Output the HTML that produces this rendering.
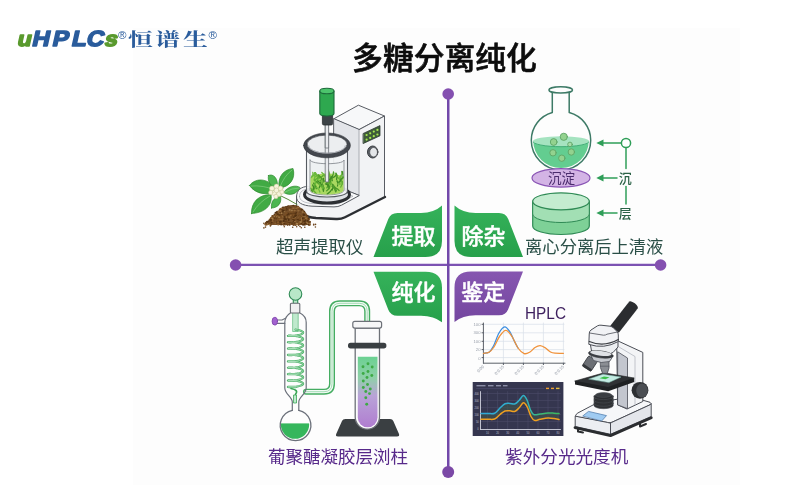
<!DOCTYPE html>
<html lang="zh">
<head>
<meta charset="utf-8">
<title>多糖分离纯化</title>
<style>
html,body{margin:0;padding:0;background:#fff;}
body{width:800px;height:500px;overflow:hidden;position:relative;font-family:"Liberation Sans","Noto Sans CJK SC",sans-serif;}
svg{position:absolute;left:0;top:0;display:block;filter:blur(0.35px);}
text{font-family:"Liberation Sans","Noto Sans CJK SC",sans-serif;}
.cap{font-size:17.5px;fill:#2a4f47;}
.capp{font-size:17.5px;fill:#57298a;}
.badge{font-size:22px;font-weight:500;fill:#fff;stroke:#fff;stroke-width:0.45px;stroke-linejoin:round;}
</style>
</head>
<body>
<svg width="800" height="500" viewBox="0 0 800 500">
<defs>
<linearGradient id="gleaf" x1="0" y1="0" x2="0" y2="1"><stop offset="0" stop-color="#35b25a"/><stop offset="1" stop-color="#27a04b"/></linearGradient>
<linearGradient id="pleaf" x1="0" y1="0" x2="0" y2="1"><stop offset="0" stop-color="#8656b0"/><stop offset="1" stop-color="#74469f"/></linearGradient>
<linearGradient id="tubeliq" x1="0" y1="0" x2="0" y2="1"><stop offset="0" stop-color="#6bd192"/><stop offset="0.3" stop-color="#8fd0a8"/><stop offset="0.55" stop-color="#b9a3d8"/><stop offset="1" stop-color="#b07dd0"/></linearGradient>
<linearGradient id="lineg" gradientUnits="userSpaceOnUse" x1="481" y1="0" x2="559" y2="0"><stop offset="0" stop-color="#2fa8d8"/><stop offset="0.55" stop-color="#2fb0c8"/><stop offset="0.75" stop-color="#3cb878"/><stop offset="1" stop-color="#3cb860"/></linearGradient>
</defs>
<!-- panel -->
<rect x="133" y="28" width="607" height="457" fill="#fdfdfd"/>

<!-- LOGO -->
<g id="logo">
<text transform="translate(16.5,46.3) scale(1.1,1) skewX(-11.5)" font-size="22" font-weight="700" stroke-width="1.5" stroke-linejoin="round" style="font-family:'Liberation Sans',sans-serif"><tspan x="0" font-size="21" fill="#5a9a2e" stroke="#5a9a2e">u</tspan><tspan x="13.48 31.75 49.44 62.73" fill="#2a5c9c" stroke="#2a5c9c">HPLC</tspan><tspan x="79.38" font-size="21" fill="#5a9a2e" stroke="#5a9a2e">s</tspan></text>
<text x="118" y="39.2" font-size="11.5" fill="#2a5c9c" style="font-family:'Liberation Sans',sans-serif">®</text>
<text transform="translate(127.9,46.1) scale(1.38,1)" x="0 19.78 39.86" font-weight="700" font-size="18" fill="#2a5c9c" style="font-family:'Liberation Serif','Noto Serif CJK SC',serif">恒谱生</text>
<text x="208.6" y="39.2" font-size="11.5" fill="#2a5c9c" style="font-family:'Liberation Sans',sans-serif">®</text>
</g>

<!-- TITLE -->
<text x="444.5" y="69" text-anchor="middle" font-size="30.8" font-weight="500" fill="#0d0d0d" stroke="#0d0d0d" stroke-width="0.6" stroke-linejoin="round">多糖分离纯化</text>

<!-- AXES -->
<g id="axes">
<line x1="236" y1="264.85" x2="661" y2="264.85" stroke="#7c52b2" stroke-width="2.4"/>
<line x1="448.25" y1="94" x2="448.25" y2="472" stroke="#7248aa" stroke-width="2.5"/>
<circle cx="235.6" cy="265" r="5.8" fill="#8450b0"/>
<circle cx="660.6" cy="265" r="5.8" fill="#8450b0"/>
<circle cx="448.2" cy="94" r="5.8" fill="#8450b0"/>
<circle cx="448.2" cy="472" r="6" fill="#7b49a6"/>
</g>

<!-- BADGES -->
<g id="badges">
<path d="M373.5 257 L388.3 219 Q390.6 213 397.5 213 L421 213 Q434 213 442 205.6 L442 241 Q442 257 425.5 257 Z" fill="url(#gleaf)"/>
<path d="M523 257 L508.2 219 Q505.9 213 499 213 L475.5 213 Q462.5 213 454.5 205.6 L454.5 241 Q454.5 257 471 257 Z" fill="url(#gleaf)"/>
<path d="M373.5 271.7 L388.3 309.7 Q390.6 315.7 397.5 315.7 L421 315.7 Q434 315.7 442 322.3 L442 287.7 Q442 271.7 425.5 271.7 Z" fill="url(#gleaf)"/>
<path d="M523 271.4 L508.2 309.2 Q505.9 315.2 499 315.2 L475.5 315.2 Q462.5 315.2 454.5 322 L454.5 287.4 Q454.5 271.4 471 271.4 Z" fill="url(#pleaf)"/>
<text class="badge" x="413.5" y="243.6" text-anchor="middle">提取</text>
<text class="badge" x="483.5" y="243.6" text-anchor="middle">除杂</text>
<text class="badge" x="413.5" y="300.4" text-anchor="middle">纯化</text>
<text class="badge" x="483.2" y="300.2" text-anchor="middle">鉴定</text>
</g>

<!-- Q1 extractor -->
<g id="q1" stroke-linejoin="round" stroke-linecap="round">
<!-- tower -->
<path d="M334 118.7 L358.4 105.2 L384.5 116 L359.3 129.5 Z" fill="#f7f8f9" stroke="#585c63" stroke-width="1"/>
<path d="M334 118.7 L359.3 129.5 L359.3 195.5 L334 186 Z" fill="#e3e5e9" stroke="#585c63" stroke-width="1"/>
<path d="M359.3 129.5 L384.5 116 L384.5 196 L345 217 Q341 219 336 218.5 L316 217.5 C303 216.5 296.5 212 296.5 206 L296.5 197 C296.5 202.5 302 205.5 312 206.2 L334 206.9 Q338 207 341.5 205.2 L359.3 195.5 Z" fill="#f2f3f5" stroke="none"/>
<path d="M359.3 129.5 L384.5 116 L384.5 196" fill="none" stroke="#585c63" stroke-width="1"/>
<!-- base slab -->
<path d="M296.5 197 C296.5 190 301 186.8 308 186.3 L346 190 L359.3 195.5 L341.5 205.2 Q338 207 334 206.9 L312 206.2 C302 205.5 296.5 202.5 296.5 197 Z" fill="#f8f9fa" stroke="#585c63" stroke-width="1"/>
<path d="M299.5 196.5 C299.5 191.5 303 189.3 309 189 L343 192.3 L353 196.2 L339.5 203.3 Q337.5 204.2 334 204.2 L313 203.6 C304 203 299.5 200.5 299.5 196.5 Z" fill="none" stroke="#9a9ea6" stroke-width="0.6"/>
<path d="M296.5 197 L296.5 206.5" fill="none" stroke="#585c63" stroke-width="1"/>
<path d="M296.8 207 C297.5 213 304 217 316 218 L336 219 Q341 219.3 345 217.2 L385 197" fill="none" stroke="#2c2f33" stroke-width="2.4"/>
<!-- led panel + knob -->
<path d="M363.4 133.4 L380 125.6 L380 135.8 L363.4 143.4 Z" fill="#3f5d3a" stroke="#2f3a33" stroke-width="0.8"/>
<g fill="#a6e84f" stroke="none">
<circle cx="366.6" cy="135" r="1.1"/><circle cx="370.2" cy="133.3" r="1.1"/><circle cx="373.8" cy="131.6" r="1.1"/><circle cx="377.4" cy="129.9" r="1.1"/>
<circle cx="366.6" cy="139.6" r="1.1"/><circle cx="370.2" cy="137.9" r="1.1"/><circle cx="373.8" cy="136.2" r="1.1"/><circle cx="377.4" cy="134.5" r="1.1"/>
</g>
<ellipse cx="372.7" cy="152" rx="5.2" ry="6" fill="#5b6066" stroke="#3a3d42" stroke-width="1"/>
<ellipse cx="373.6" cy="152.2" rx="3.9" ry="4.7" fill="#e4e6e9" stroke="#3a3d42" stroke-width="0.6"/>
<!-- beaker -->
<ellipse cx="327" cy="194.5" rx="22.5" ry="8.5" fill="#dfe2e6" stroke="#2c2f33" stroke-width="3"/>
<path d="M306.5 148 L306.5 191 C306.5 199 347.5 199 347.5 191 L347.5 148 Z" fill="#f3f5f6" fill-opacity="0.92" stroke="none"/><path d="M306.5 148 L306.5 191 C306.5 199 347.5 199 347.5 191 L347.5 148" fill="none" stroke="#555a60" stroke-width="1.1"/><ellipse cx="327" cy="144.5" rx="21" ry="9.8" fill="#eceef0" stroke="none"/>
<path d="M310 160 L310 190 C310 196.5 344 196.5 344 190 L344 160 C344 165 310 165 310 160 Z" fill="#eef1f2" stroke="#7b8087" stroke-width="0.8"/>
<clipPath id="herbclip"><path d="M310.5 165 L343.5 165 L343.5 190 C343.5 196 310.5 196 310.5 190 Z"/></clipPath><path d="M310.5 178 C314 172 340 172 343.5 178 L343.5 190 C343.5 196 310.5 196 310.5 190 Z" fill="#a9d860"/><g clip-path="url(#herbclip)">
<path d="M341.1 178.2 Q345.1 176.5 346.0 174.8" stroke="#6dbb3c" stroke-width="1.3" fill="none" stroke-linecap="round"/><path d="M315.7 183.0 Q318.2 180.7 317.7 178.4" stroke="#5fae32" stroke-width="1.3" fill="none" stroke-linecap="round"/><path d="M332.3 180.7 Q332.6 178.3 329.8 175.9" stroke="#3f8a26" stroke-width="1.3" fill="none" stroke-linecap="round"/><path d="M339.9 177.9 Q342.9 174.7 342.9 171.6" stroke="#5fae32" stroke-width="1.3" fill="none" stroke-linecap="round"/><path d="M342.5 182.3 Q341.4 179.8 337.3 177.2" stroke="#5fae32" stroke-width="1.3" fill="none" stroke-linecap="round"/><path d="M316.3 188.7 Q316.4 186.0 313.6 183.3" stroke="#3f8a26" stroke-width="1.3" fill="none" stroke-linecap="round"/><path d="M339.8 184.4 Q340.9 181.3 339.0 178.2" stroke="#6dbb3c" stroke-width="1.3" fill="none" stroke-linecap="round"/><path d="M342.3 184.2 Q342.8 181.8 340.3 179.5" stroke="#6dbb3c" stroke-width="1.3" fill="none" stroke-linecap="round"/><path d="M315.9 176.6 Q317.2 174.6 315.4 172.6" stroke="#5fae32" stroke-width="1.3" fill="none" stroke-linecap="round"/><path d="M327.2 194.1 Q331.0 191.6 331.9 189.1" stroke="#3f8a26" stroke-width="1.3" fill="none" stroke-linecap="round"/><path d="M319.2 187.9 Q321.3 184.1 320.4 180.2" stroke="#3f8a26" stroke-width="1.3" fill="none" stroke-linecap="round"/><path d="M317.5 179.0 Q322.0 177.2 323.4 175.4" stroke="#6dbb3c" stroke-width="1.3" fill="none" stroke-linecap="round"/><path d="M324.7 181.5 Q324.3 179.6 320.9 177.7" stroke="#5fae32" stroke-width="1.3" fill="none" stroke-linecap="round"/><path d="M319.3 177.6 Q318.2 175.5 314.2 173.3" stroke="#4c9a2a" stroke-width="1.3" fill="none" stroke-linecap="round"/><path d="M311.2 177.6 Q314.3 175.3 314.5 173.0" stroke="#6dbb3c" stroke-width="1.3" fill="none" stroke-linecap="round"/><path d="M328.7 188.6 Q330.0 186.3 328.2 183.9" stroke="#4c9a2a" stroke-width="1.3" fill="none" stroke-linecap="round"/><path d="M313.2 189.0 Q314.4 187.0 312.6 185.0" stroke="#3f8a26" stroke-width="1.3" fill="none" stroke-linecap="round"/><path d="M327.6 182.2 Q330.9 181.1 331.3 179.9" stroke="#5fae32" stroke-width="1.3" fill="none" stroke-linecap="round"/><path d="M323.4 191.3 Q324.6 188.0 322.8 184.7" stroke="#3f8a26" stroke-width="1.3" fill="none" stroke-linecap="round"/><path d="M331.1 184.4 Q331.6 182.6 329.0 180.9" stroke="#5fae32" stroke-width="1.3" fill="none" stroke-linecap="round"/><path d="M318.4 183.9 Q317.9 182.1 314.5 180.3" stroke="#4c9a2a" stroke-width="1.3" fill="none" stroke-linecap="round"/><path d="M328.5 187.4 Q329.1 185.5 326.8 183.6" stroke="#4c9a2a" stroke-width="1.3" fill="none" stroke-linecap="round"/><path d="M329.8 180.2 Q331.1 177.2 329.4 174.2" stroke="#6dbb3c" stroke-width="1.3" fill="none" stroke-linecap="round"/><path d="M332.2 190.0 Q333.9 187.1 332.6 184.3" stroke="#3f8a26" stroke-width="1.3" fill="none" stroke-linecap="round"/><path d="M336.6 179.4 Q337.9 176.3 336.1 173.3" stroke="#3f8a26" stroke-width="1.3" fill="none" stroke-linecap="round"/><path d="M340.7 187.1 Q342.9 184.3 342.2 181.5" stroke="#5fae32" stroke-width="1.3" fill="none" stroke-linecap="round"/><path d="M320.9 185.9 Q320.8 183.3 317.7 180.7" stroke="#3f8a26" stroke-width="1.3" fill="none" stroke-linecap="round"/><path d="M314.9 185.5 Q316.4 183.0 314.8 180.5" stroke="#6dbb3c" stroke-width="1.3" fill="none" stroke-linecap="round"/><path d="M311.7 176.4 Q313.7 174.4 312.8 172.4" stroke="#6dbb3c" stroke-width="1.3" fill="none" stroke-linecap="round"/><path d="M340.0 176.9 Q342.5 174.5 342.0 172.1" stroke="#6dbb3c" stroke-width="1.3" fill="none" stroke-linecap="round"/><path d="M326.7 190.8 Q329.8 188.7 329.9 186.6" stroke="#4c9a2a" stroke-width="1.3" fill="none" stroke-linecap="round"/><path d="M324.0 188.3 Q323.1 186.0 319.2 183.6" stroke="#5fae32" stroke-width="1.3" fill="none" stroke-linecap="round"/><path d="M313.7 190.2 Q315.5 186.6 314.3 183.1" stroke="#5fae32" stroke-width="1.3" fill="none" stroke-linecap="round"/><path d="M331.2 177.6 Q333.8 174.8 333.5 172.0" stroke="#4c9a2a" stroke-width="1.3" fill="none" stroke-linecap="round"/><path d="M326.9 182.9 Q328.4 180.7 327.0 178.5" stroke="#3f8a26" stroke-width="1.3" fill="none" stroke-linecap="round"/><path d="M328.9 183.4 Q330.3 180.2 328.6 177.0" stroke="#4c9a2a" stroke-width="1.3" fill="none" stroke-linecap="round"/><path d="M321.3 185.1 Q323.9 181.7 323.5 178.3" stroke="#3f8a26" stroke-width="1.3" fill="none" stroke-linecap="round"/><path d="M317.6 177.9 Q317.7 175.2 314.8 172.6" stroke="#6dbb3c" stroke-width="1.3" fill="none" stroke-linecap="round"/><path d="M326.3 179.9 Q327.1 177.8 324.9 175.8" stroke="#5fae32" stroke-width="1.3" fill="none" stroke-linecap="round"/><path d="M342.9 176.9 Q343.9 174.2 341.9 171.5" stroke="#3f8a26" stroke-width="1.3" fill="none" stroke-linecap="round"/><path d="M314.1 179.4 Q315.7 176.9 314.3 174.4" stroke="#6dbb3c" stroke-width="1.3" fill="none" stroke-linecap="round"/><path d="M329.1 182.5 Q330.3 180.4 328.6 178.3" stroke="#6dbb3c" stroke-width="1.3" fill="none" stroke-linecap="round"/><path d="M322.6 189.8 Q323.1 187.6 320.5 185.4" stroke="#5fae32" stroke-width="1.3" fill="none" stroke-linecap="round"/><path d="M339.1 190.5 Q338.3 188.9 334.5 187.3" stroke="#4c9a2a" stroke-width="1.3" fill="none" stroke-linecap="round"/><path d="M330.3 183.6 Q331.8 180.6 330.2 177.6" stroke="#6dbb3c" stroke-width="1.3" fill="none" stroke-linecap="round"/><path d="M330.6 185.0 Q329.7 183.1 325.7 181.2" stroke="#5fae32" stroke-width="1.3" fill="none" stroke-linecap="round"/><path d="M340.3 179.7 Q344.5 177.3 345.7 174.9" stroke="#4c9a2a" stroke-width="1.3" fill="none" stroke-linecap="round"/><path d="M342.3 178.6 Q346.0 175.5 346.6 172.4" stroke="#4c9a2a" stroke-width="1.3" fill="none" stroke-linecap="round"/><path d="M314.3 180.1 Q318.3 178.1 319.2 176.2" stroke="#5fae32" stroke-width="1.3" fill="none" stroke-linecap="round"/><path d="M340.0 184.3 Q339.9 182.4 336.8 180.6" stroke="#6dbb3c" stroke-width="1.3" fill="none" stroke-linecap="round"/><path d="M326.9 187.9 Q328.5 185.8 327.1 183.8" stroke="#4c9a2a" stroke-width="1.3" fill="none" stroke-linecap="round"/><path d="M329.9 182.5 Q331.7 180.1 330.5 177.7" stroke="#4c9a2a" stroke-width="1.3" fill="none" stroke-linecap="round"/><path d="M320.0 177.6 Q323.4 176.0 323.7 174.3" stroke="#5fae32" stroke-width="1.3" fill="none" stroke-linecap="round"/><path d="M338.9 182.3 Q341.5 180.5 341.1 178.6" stroke="#3f8a26" stroke-width="1.3" fill="none" stroke-linecap="round"/><path d="M335.8 191.8 Q335.3 189.0 331.9 186.1" stroke="#4c9a2a" stroke-width="1.3" fill="none" stroke-linecap="round"/><path d="M327.2 181.7 Q331.3 178.8 332.4 175.9" stroke="#3f8a26" stroke-width="1.3" fill="none" stroke-linecap="round"/><path d="M337.2 177.3 Q337.6 175.2 334.9 173.1" stroke="#5fae32" stroke-width="1.3" fill="none" stroke-linecap="round"/><path d="M322.0 180.1 Q321.7 177.4 318.3 174.8" stroke="#4c9a2a" stroke-width="1.3" fill="none" stroke-linecap="round"/><path d="M325.5 180.8 Q327.3 178.0 326.0 175.2" stroke="#3f8a26" stroke-width="1.3" fill="none" stroke-linecap="round"/><path d="M337.5 186.0 Q338.8 183.6 337.1 181.2" stroke="#3f8a26" stroke-width="1.3" fill="none" stroke-linecap="round"/><path d="M332.3 178.0 Q335.9 176.2 336.5 174.4" stroke="#3f8a26" stroke-width="1.3" fill="none" stroke-linecap="round"/><path d="M336.4 190.8 Q336.2 187.8 332.9 184.8" stroke="#4c9a2a" stroke-width="1.3" fill="none" stroke-linecap="round"/><path d="M311.8 192.6 Q312.6 190.3 310.4 188.1" stroke="#3f8a26" stroke-width="1.3" fill="none" stroke-linecap="round"/><path d="M312.5 190.8 Q314.5 188.7 313.6 186.7" stroke="#3f8a26" stroke-width="1.3" fill="none" stroke-linecap="round"/><path d="M328.8 176.4 Q330.0 173.0 328.1 169.6" stroke="#5fae32" stroke-width="1.3" fill="none" stroke-linecap="round"/><path d="M326.4 178.3 Q325.6 175.4 321.8 172.5" stroke="#6dbb3c" stroke-width="1.3" fill="none" stroke-linecap="round"/><path d="M319.9 192.1 Q319.7 189.7 316.5 187.3" stroke="#6dbb3c" stroke-width="1.3" fill="none" stroke-linecap="round"/><path d="M322.6 183.0 Q321.5 181.3 317.3 179.6" stroke="#6dbb3c" stroke-width="1.3" fill="none" stroke-linecap="round"/><path d="M329.1 186.2 Q328.7 185.0 325.4 183.9" stroke="#3f8a26" stroke-width="1.3" fill="none" stroke-linecap="round"/><path d="M317.0 194.6 Q315.8 192.0 311.7 189.4" stroke="#5fae32" stroke-width="1.3" fill="none" stroke-linecap="round"/></g>
<!-- rod -->
<rect x="325.6" y="124" width="3" height="58" fill="#e9ebee" stroke="#6a6e75" stroke-width="0.8"/>
<!-- ring -->
<path d="M303.6 145.4 A23.4 12.4 0 1 1 350.4 145.4 A23.4 12.4 0 1 1 303.6 145.4 Z M306.9 144.2 A20.1 9.1 0 1 0 347.1 144.2 A20.1 9.1 0 1 0 306.9 144.2 Z" fill="#44484e" fill-rule="evenodd" stroke="#2e3136" stroke-width="0.6"/>
<path d="M308.6 145.6 A18.4 7.6 0 0 0 345.4 145.6" fill="none" stroke="#b5b9bf" stroke-width="0.9"/>
<rect x="325.6" y="124" width="3" height="24" fill="#e9ebee" stroke="#6a6e75" stroke-width="0.8"/>
<!-- motor -->
<rect x="322.4" y="113" width="10.2" height="12" rx="1.5" fill="#3d4347" stroke="#2a2d30" stroke-width="0.8"/>
<path d="M319.8 91 L319.8 113.5 C319.8 116.8 334 116.8 334 113.5 L334 91 Z" fill="#2ea84f" stroke="#1c6b3a" stroke-width="1.1"/>
<ellipse cx="326.9" cy="91" rx="7.1" ry="2.8" fill="#4cc46c" stroke="#1c6b3a" stroke-width="1.1"/>
<!-- plant -->
<g stroke="#2c8a2c" stroke-width="0.7">
<path d="M249.5 185.5 C256 176.5 270 178.5 276.5 190.5 C268 196 255.5 194.5 249.5 185.5 Z" fill="#41aa44"/>
<path d="M279 188 C277.5 176 284 169.5 293 168.5 C296 178 290 187.5 279 188 Z" fill="#41aa44"/>
<path d="M268.5 175.5 C273 173 279 178.5 277 188 C271 187 267 181.5 268.5 175.5 Z" fill="#4db651"/>
<path d="M283.5 192.5 C288 186 296 184.8 300 187.5 C297 194 290 196.5 283.5 192.5 Z" fill="#4db651"/>
<path d="M251.5 213.5 C251 202 259 194.5 271 194.5 C273 206 264 213 251.5 213.5 Z" fill="#41aa44"/>
<path d="M271.5 208 C270.5 201 275 196.5 280.5 196.5 C282 203 278 208 271.5 208 Z" fill="#4db651"/>
<path d="M279 195 Q288 199 297 204.5" fill="none" stroke="#5a8a3a" stroke-width="1"/>
</g>
<g stroke="#8fd48a" stroke-width="0.6" fill="none">
<path d="M251 186 Q263 185 275.5 190"/><path d="M280 187 Q284 176 292 170"/><path d="M253 212 Q259 202 270 196"/><path d="M285 192 Q292 188 299 188"/>
</g>
<g fill="#f7f4dc" stroke="#c5c293" stroke-width="0.5">
<circle cx="272" cy="188.5" r="2.5"/><circle cx="276.5" cy="186.5" r="2.5"/><circle cx="280.5" cy="188.5" r="2.5"/><circle cx="274" cy="193" r="2.5"/><circle cx="279" cy="194" r="2.5"/><circle cx="270.8" cy="192.5" r="2.2"/><circle cx="276.5" cy="190.3" r="2.4"/><circle cx="276" cy="196.5" r="2.2"/><circle cx="282" cy="192" r="2.1"/>
</g>
<!-- seeds -->
<path d="M265 225 L270 219 Q276 211 284 206.7 Q291 203.8 298 206 Q305 210 308 216 L310.8 225 Z" fill="#76502a" stroke="none"/>
<g stroke="none"><ellipse cx="290.9" cy="212.2" rx="1.1" ry="1.0" fill="#845829"/><ellipse cx="289.2" cy="214.6" rx="1.0" ry="0.9" fill="#6e4720"/><ellipse cx="286.9" cy="219.6" rx="1.0" ry="0.8" fill="#5f3c1a"/><ellipse cx="287.6" cy="224.0" rx="1.3" ry="0.7" fill="#94693a"/><ellipse cx="279.7" cy="212.7" rx="0.9" ry="0.6" fill="#7a4f24"/><ellipse cx="309.1" cy="223.5" rx="1.4" ry="0.6" fill="#7a4f24"/><ellipse cx="281.8" cy="213.7" rx="1.1" ry="0.8" fill="#7a4f24"/><ellipse cx="281.2" cy="213.9" rx="1.0" ry="0.7" fill="#6e4720"/><ellipse cx="270.4" cy="224.8" rx="1.3" ry="0.6" fill="#6e4720"/><ellipse cx="269.7" cy="220.4" rx="0.8" ry="0.7" fill="#4f3012"/><ellipse cx="274.5" cy="222.8" rx="1.1" ry="0.8" fill="#94693a"/><ellipse cx="281.4" cy="215.8" rx="1.1" ry="0.6" fill="#845829"/><ellipse cx="282.4" cy="211.7" rx="0.9" ry="1.0" fill="#553314"/><ellipse cx="266.2" cy="223.8" rx="1.2" ry="1.0" fill="#a57e4c"/><ellipse cx="303.0" cy="211.9" rx="1.2" ry="0.8" fill="#a57e4c"/><ellipse cx="296.2" cy="207.9" rx="1.1" ry="0.8" fill="#845829"/><ellipse cx="288.1" cy="219.9" rx="1.0" ry="1.0" fill="#a57e4c"/><ellipse cx="279.6" cy="209.7" rx="0.9" ry="0.7" fill="#6e4720"/><ellipse cx="297.2" cy="213.1" rx="1.3" ry="0.7" fill="#845829"/><ellipse cx="297.7" cy="218.3" rx="1.1" ry="1.0" fill="#94693a"/><ellipse cx="306.7" cy="215.6" rx="0.8" ry="1.0" fill="#6e4720"/><ellipse cx="305.4" cy="224.8" rx="0.9" ry="0.7" fill="#a57e4c"/><ellipse cx="291.5" cy="213.5" rx="1.3" ry="0.7" fill="#7a4f24"/><ellipse cx="292.6" cy="223.7" rx="1.1" ry="1.1" fill="#4f3012"/><ellipse cx="295.7" cy="224.9" rx="1.0" ry="1.1" fill="#6e4720"/><ellipse cx="301.7" cy="222.8" rx="1.3" ry="0.9" fill="#4f3012"/><ellipse cx="274.8" cy="218.4" rx="1.0" ry="0.6" fill="#5f3c1a"/><ellipse cx="305.2" cy="218.6" rx="1.4" ry="1.0" fill="#845829"/><ellipse cx="302.7" cy="224.7" rx="1.1" ry="0.7" fill="#4f3012"/><ellipse cx="280.1" cy="216.4" rx="0.9" ry="0.8" fill="#553314"/><ellipse cx="298.9" cy="220.0" rx="1.1" ry="1.0" fill="#5f3c1a"/><ellipse cx="277.0" cy="222.5" rx="0.9" ry="1.0" fill="#6e4720"/><ellipse cx="289.7" cy="215.8" rx="0.8" ry="0.6" fill="#7a4f24"/><ellipse cx="272.1" cy="223.4" rx="0.9" ry="0.9" fill="#845829"/><ellipse cx="301.8" cy="217.0" rx="1.1" ry="1.1" fill="#94693a"/><ellipse cx="277.5" cy="213.7" rx="0.9" ry="1.1" fill="#845829"/><ellipse cx="280.9" cy="223.0" rx="1.2" ry="1.1" fill="#7a4f24"/><ellipse cx="280.2" cy="211.8" rx="1.3" ry="0.9" fill="#4f3012"/><ellipse cx="271.2" cy="223.8" rx="1.2" ry="1.0" fill="#94693a"/><ellipse cx="303.1" cy="217.5" rx="1.3" ry="1.0" fill="#7a4f24"/><ellipse cx="303.7" cy="214.6" rx="1.2" ry="1.1" fill="#845829"/><ellipse cx="293.4" cy="220.4" rx="1.3" ry="0.8" fill="#94693a"/><ellipse cx="283.3" cy="223.2" rx="0.9" ry="0.7" fill="#a57e4c"/><ellipse cx="267.0" cy="224.5" rx="1.0" ry="1.1" fill="#94693a"/><ellipse cx="302.6" cy="223.0" rx="0.9" ry="0.7" fill="#7a4f24"/><ellipse cx="288.7" cy="207.2" rx="0.9" ry="1.0" fill="#6e4720"/><ellipse cx="309.7" cy="221.7" rx="1.1" ry="0.6" fill="#6e4720"/><ellipse cx="269.8" cy="219.4" rx="1.1" ry="0.9" fill="#a57e4c"/><ellipse cx="279.3" cy="216.5" rx="1.1" ry="0.9" fill="#6e4720"/><ellipse cx="306.4" cy="217.4" rx="1.0" ry="0.8" fill="#94693a"/><ellipse cx="303.7" cy="220.5" rx="1.4" ry="1.0" fill="#4f3012"/><ellipse cx="301.3" cy="221.8" rx="0.8" ry="1.1" fill="#a57e4c"/><ellipse cx="276.7" cy="218.9" rx="1.4" ry="0.8" fill="#6e4720"/><ellipse cx="270.8" cy="224.8" rx="0.9" ry="1.0" fill="#553314"/><ellipse cx="293.4" cy="205.5" rx="1.3" ry="0.7" fill="#553314"/><ellipse cx="266.8" cy="222.9" rx="1.3" ry="1.1" fill="#6e4720"/><ellipse cx="266.9" cy="222.9" rx="1.3" ry="0.9" fill="#4f3012"/><ellipse cx="279.8" cy="223.3" rx="1.2" ry="1.0" fill="#6e4720"/><ellipse cx="281.1" cy="208.8" rx="1.1" ry="0.8" fill="#4f3012"/><ellipse cx="303.0" cy="223.6" rx="1.4" ry="0.6" fill="#a57e4c"/><ellipse cx="284.7" cy="218.8" rx="1.0" ry="0.7" fill="#6e4720"/><ellipse cx="279.2" cy="213.7" rx="1.3" ry="0.8" fill="#a57e4c"/><ellipse cx="278.9" cy="220.4" rx="1.2" ry="0.6" fill="#553314"/><ellipse cx="272.5" cy="216.4" rx="1.1" ry="0.9" fill="#94693a"/><ellipse cx="279.7" cy="211.1" rx="1.2" ry="0.8" fill="#a57e4c"/><ellipse cx="272.9" cy="219.1" rx="1.2" ry="0.8" fill="#845829"/><ellipse cx="305.0" cy="216.1" rx="1.3" ry="0.6" fill="#a57e4c"/><ellipse cx="293.7" cy="221.2" rx="1.1" ry="0.7" fill="#553314"/><ellipse cx="292.8" cy="215.5" rx="0.9" ry="0.7" fill="#553314"/><ellipse cx="297.4" cy="208.6" rx="1.1" ry="1.0" fill="#5f3c1a"/><ellipse cx="306.1" cy="216.2" rx="1.2" ry="0.9" fill="#6e4720"/><ellipse cx="271.0" cy="221.6" rx="1.2" ry="1.0" fill="#7a4f24"/><ellipse cx="307.2" cy="218.7" rx="1.2" ry="0.8" fill="#6e4720"/><ellipse cx="301.2" cy="218.9" rx="1.3" ry="1.0" fill="#a57e4c"/><ellipse cx="306.0" cy="216.9" rx="1.2" ry="1.1" fill="#a57e4c"/><ellipse cx="279.8" cy="211.6" rx="1.1" ry="0.9" fill="#7a4f24"/><ellipse cx="272.1" cy="220.2" rx="0.9" ry="0.9" fill="#7a4f24"/><ellipse cx="302.5" cy="221.1" rx="0.8" ry="0.7" fill="#6e4720"/><ellipse cx="289.8" cy="209.9" rx="0.8" ry="0.9" fill="#a57e4c"/><ellipse cx="277.1" cy="220.1" rx="0.8" ry="0.7" fill="#6e4720"/><ellipse cx="281.1" cy="213.9" rx="1.3" ry="0.7" fill="#7a4f24"/><ellipse cx="270.8" cy="222.5" rx="1.3" ry="1.0" fill="#6e4720"/><ellipse cx="301.9" cy="216.0" rx="0.8" ry="0.9" fill="#5f3c1a"/><ellipse cx="280.6" cy="210.9" rx="1.3" ry="0.7" fill="#94693a"/><ellipse cx="270.6" cy="222.8" rx="0.9" ry="1.0" fill="#6e4720"/><ellipse cx="279.2" cy="220.9" rx="1.3" ry="0.9" fill="#6e4720"/><ellipse cx="284.6" cy="210.8" rx="1.0" ry="1.0" fill="#a57e4c"/><ellipse cx="287.4" cy="223.4" rx="1.4" ry="0.9" fill="#94693a"/><ellipse cx="303.4" cy="217.1" rx="1.0" ry="1.0" fill="#94693a"/><ellipse cx="301.9" cy="210.2" rx="1.3" ry="0.8" fill="#6e4720"/><ellipse cx="282.3" cy="214.1" rx="1.0" ry="0.8" fill="#5f3c1a"/><ellipse cx="299.7" cy="209.0" rx="1.2" ry="0.8" fill="#845829"/><ellipse cx="288.4" cy="220.7" rx="1.2" ry="0.6" fill="#6e4720"/><ellipse cx="275.3" cy="223.0" rx="1.1" ry="1.0" fill="#6e4720"/><ellipse cx="294.9" cy="210.2" rx="1.3" ry="1.1" fill="#7a4f24"/><ellipse cx="266.4" cy="222.7" rx="1.4" ry="1.0" fill="#94693a"/><ellipse cx="283.4" cy="221.6" rx="1.3" ry="1.0" fill="#94693a"/><ellipse cx="282.1" cy="213.2" rx="1.4" ry="0.9" fill="#a57e4c"/><ellipse cx="271.5" cy="222.2" rx="0.9" ry="1.0" fill="#553314"/><ellipse cx="285.1" cy="219.0" rx="1.3" ry="1.1" fill="#4f3012"/><ellipse cx="280.3" cy="220.8" rx="1.0" ry="0.9" fill="#6e4720"/><ellipse cx="309.1" cy="224.3" rx="1.3" ry="0.9" fill="#94693a"/><ellipse cx="267.9" cy="223.0" rx="1.0" ry="1.1" fill="#4f3012"/><ellipse cx="300.2" cy="222.7" rx="1.3" ry="0.8" fill="#553314"/><ellipse cx="266.8" cy="222.8" rx="1.2" ry="0.6" fill="#5f3c1a"/><ellipse cx="286.8" cy="209.5" rx="0.9" ry="0.8" fill="#553314"/><ellipse cx="285.7" cy="216.3" rx="0.8" ry="0.9" fill="#4f3012"/><ellipse cx="271.6" cy="218.1" rx="1.2" ry="0.8" fill="#6e4720"/><ellipse cx="295.9" cy="213.6" rx="1.0" ry="0.9" fill="#5f3c1a"/><ellipse cx="272.6" cy="220.7" rx="1.4" ry="1.0" fill="#94693a"/><ellipse cx="290.5" cy="207.5" rx="1.2" ry="0.7" fill="#5f3c1a"/><ellipse cx="295.0" cy="221.2" rx="1.0" ry="1.1" fill="#94693a"/><ellipse cx="296.8" cy="217.6" rx="0.9" ry="0.9" fill="#6e4720"/><ellipse cx="280.3" cy="208.9" rx="1.0" ry="0.6" fill="#94693a"/><ellipse cx="269.3" cy="223.2" rx="0.9" ry="0.8" fill="#845829"/><ellipse cx="292.3" cy="215.2" rx="0.9" ry="0.6" fill="#553314"/><ellipse cx="282.1" cy="209.4" rx="0.8" ry="0.9" fill="#553314"/><ellipse cx="280.5" cy="223.3" rx="1.0" ry="0.7" fill="#5f3c1a"/><ellipse cx="300.1" cy="218.1" rx="0.8" ry="0.8" fill="#6e4720"/><ellipse cx="295.1" cy="223.9" rx="1.3" ry="0.7" fill="#845829"/><ellipse cx="298.4" cy="210.5" rx="1.1" ry="1.1" fill="#94693a"/><ellipse cx="272.4" cy="218.3" rx="1.2" ry="0.6" fill="#a57e4c"/><ellipse cx="307.4" cy="215.6" rx="1.3" ry="0.7" fill="#553314"/><ellipse cx="294.3" cy="220.3" rx="1.3" ry="0.8" fill="#6e4720"/><ellipse cx="296.6" cy="206.6" rx="1.4" ry="0.7" fill="#553314"/><ellipse cx="295.3" cy="214.6" rx="1.0" ry="0.7" fill="#7a4f24"/><ellipse cx="277.9" cy="219.5" rx="0.8" ry="1.1" fill="#94693a"/><ellipse cx="267.7" cy="224.1" rx="0.9" ry="0.6" fill="#845829"/><ellipse cx="307.9" cy="223.9" rx="0.9" ry="1.1" fill="#a57e4c"/><ellipse cx="274.4" cy="217.8" rx="1.2" ry="0.9" fill="#7a4f24"/><ellipse cx="268.9" cy="221.1" rx="1.2" ry="0.8" fill="#7a4f24"/><ellipse cx="278.9" cy="215.9" rx="1.0" ry="1.1" fill="#6e4720"/><ellipse cx="300.1" cy="222.0" rx="0.9" ry="1.0" fill="#6e4720"/><ellipse cx="285.8" cy="206.9" rx="1.3" ry="0.7" fill="#5f3c1a"/><ellipse cx="305.3" cy="220.1" rx="1.0" ry="1.0" fill="#4f3012"/><ellipse cx="284.4" cy="209.7" rx="1.1" ry="0.8" fill="#6e4720"/><ellipse cx="285.5" cy="209.4" rx="1.0" ry="0.6" fill="#845829"/><ellipse cx="268.2" cy="222.7" rx="1.2" ry="1.1" fill="#7a4f24"/><ellipse cx="295.8" cy="208.5" rx="1.3" ry="1.1" fill="#5f3c1a"/><ellipse cx="287.1" cy="224.6" rx="1.4" ry="0.7" fill="#6e4720"/><ellipse cx="306.0" cy="215.5" rx="0.8" ry="0.7" fill="#7a4f24"/><ellipse cx="291.1" cy="215.0" rx="1.3" ry="0.6" fill="#845829"/><ellipse cx="298.0" cy="207.4" rx="1.4" ry="1.0" fill="#94693a"/><ellipse cx="298.5" cy="219.4" rx="0.9" ry="0.8" fill="#553314"/><ellipse cx="303.5" cy="218.3" rx="1.2" ry="1.0" fill="#6e4720"/><ellipse cx="301.5" cy="223.2" rx="1.3" ry="0.8" fill="#553314"/><ellipse cx="284.2" cy="221.1" rx="0.9" ry="1.1" fill="#5f3c1a"/><ellipse cx="301.3" cy="216.1" rx="1.3" ry="0.7" fill="#6e4720"/><ellipse cx="271.1" cy="217.9" rx="1.2" ry="0.9" fill="#845829"/><ellipse cx="272.7" cy="219.7" rx="1.2" ry="1.0" fill="#94693a"/><ellipse cx="286.5" cy="223.3" rx="0.9" ry="0.9" fill="#94693a"/><ellipse cx="307.4" cy="218.9" rx="1.2" ry="0.8" fill="#553314"/><ellipse cx="281.8" cy="208.3" rx="1.4" ry="0.9" fill="#94693a"/><ellipse cx="270.3" cy="220.9" rx="1.0" ry="0.8" fill="#94693a"/><ellipse cx="295.4" cy="215.4" rx="0.9" ry="0.9" fill="#5f3c1a"/><ellipse cx="265.7" cy="224.5" rx="1.3" ry="0.9" fill="#a57e4c"/><ellipse cx="304.8" cy="223.6" rx="1.4" ry="0.9" fill="#6e4720"/><ellipse cx="266.7" cy="222.7" rx="1.1" ry="0.7" fill="#6e4720"/><ellipse cx="287.7" cy="222.2" rx="1.0" ry="0.9" fill="#6e4720"/><ellipse cx="295.8" cy="216.0" rx="1.4" ry="0.6" fill="#845829"/><ellipse cx="283.5" cy="210.6" rx="1.4" ry="0.8" fill="#4f3012"/><ellipse cx="276.6" cy="215.7" rx="1.3" ry="0.9" fill="#553314"/><ellipse cx="271.2" cy="219.7" rx="0.8" ry="0.7" fill="#845829"/><ellipse cx="290.1" cy="224.8" rx="1.1" ry="0.8" fill="#94693a"/><ellipse cx="288.3" cy="212.6" rx="1.2" ry="0.7" fill="#6e4720"/><ellipse cx="287.3" cy="214.8" rx="1.1" ry="1.0" fill="#553314"/><ellipse cx="294.8" cy="219.8" rx="1.1" ry="0.7" fill="#7a4f24"/><ellipse cx="293.2" cy="213.5" rx="0.8" ry="0.8" fill="#553314"/><ellipse cx="280.8" cy="220.3" rx="0.9" ry="0.6" fill="#6e4720"/><ellipse cx="303.7" cy="216.5" rx="1.0" ry="1.0" fill="#a57e4c"/><ellipse cx="309.3" cy="222.7" rx="1.2" ry="0.9" fill="#845829"/><ellipse cx="281.5" cy="221.2" rx="0.8" ry="1.1" fill="#4f3012"/><ellipse cx="278.8" cy="217.2" rx="1.1" ry="0.9" fill="#a57e4c"/><ellipse cx="293.8" cy="217.2" rx="1.1" ry="0.8" fill="#4f3012"/><ellipse cx="286.4" cy="223.9" rx="0.9" ry="0.7" fill="#5f3c1a"/><ellipse cx="272.3" cy="218.4" rx="1.4" ry="0.7" fill="#a57e4c"/><ellipse cx="288.6" cy="214.1" rx="1.0" ry="1.0" fill="#553314"/><ellipse cx="297.7" cy="222.1" rx="1.0" ry="1.0" fill="#6e4720"/><ellipse cx="294.4" cy="211.6" rx="1.1" ry="0.9" fill="#5f3c1a"/><ellipse cx="293.4" cy="218.7" rx="1.2" ry="0.7" fill="#94693a"/><ellipse cx="278.1" cy="214.4" rx="1.3" ry="0.8" fill="#6e4720"/><ellipse cx="307.8" cy="218.6" rx="0.9" ry="0.8" fill="#6e4720"/><ellipse cx="280.0" cy="219.4" rx="1.1" ry="1.0" fill="#94693a"/><ellipse cx="292.9" cy="208.9" rx="1.0" ry="1.1" fill="#7a4f24"/><ellipse cx="277.3" cy="211.5" rx="1.3" ry="0.7" fill="#4f3012"/><ellipse cx="277.0" cy="222.2" rx="1.1" ry="1.1" fill="#5f3c1a"/><ellipse cx="282.2" cy="223.6" rx="1.2" ry="0.7" fill="#4f3012"/><ellipse cx="307.6" cy="219.0" rx="1.1" ry="1.0" fill="#6e4720"/><ellipse cx="300.3" cy="221.9" rx="1.1" ry="0.8" fill="#6e4720"/><ellipse cx="288.0" cy="222.7" rx="1.0" ry="0.8" fill="#5f3c1a"/><ellipse cx="269.5" cy="220.1" rx="0.8" ry="0.9" fill="#7a4f24"/><ellipse cx="278.0" cy="214.5" rx="1.0" ry="0.9" fill="#845829"/><ellipse cx="274.9" cy="216.5" rx="1.1" ry="0.7" fill="#a57e4c"/><ellipse cx="269.0" cy="223.9" rx="1.1" ry="1.0" fill="#7a4f24"/><ellipse cx="303.2" cy="210.8" rx="0.9" ry="0.8" fill="#553314"/><ellipse cx="303.3" cy="220.7" rx="0.8" ry="0.7" fill="#6e4720"/><ellipse cx="302.9" cy="215.0" rx="1.0" ry="1.0" fill="#5f3c1a"/><ellipse cx="266.5" cy="223.1" rx="0.8" ry="1.1" fill="#7a4f24"/><ellipse cx="296.4" cy="212.3" rx="0.8" ry="0.6" fill="#553314"/><ellipse cx="281.0" cy="217.5" rx="1.2" ry="0.6" fill="#a57e4c"/><ellipse cx="294.7" cy="214.1" rx="1.1" ry="1.1" fill="#6e4720"/><ellipse cx="267.3" cy="222.5" rx="1.0" ry="1.0" fill="#4f3012"/><ellipse cx="271.0" cy="220.5" rx="1.3" ry="0.9" fill="#6e4720"/><ellipse cx="281.9" cy="219.9" rx="0.9" ry="0.8" fill="#a57e4c"/><ellipse cx="280.2" cy="215.1" rx="1.4" ry="0.7" fill="#6e4720"/><ellipse cx="304.4" cy="224.8" rx="1.3" ry="0.6" fill="#4f3012"/><ellipse cx="309.5" cy="224.9" rx="0.8" ry="0.9" fill="#5f3c1a"/><ellipse cx="304.1" cy="218.1" rx="1.1" ry="0.7" fill="#4f3012"/><ellipse cx="308.3" cy="223.4" rx="1.2" ry="1.0" fill="#845829"/><ellipse cx="294.2" cy="214.4" rx="1.3" ry="0.7" fill="#7a4f24"/><ellipse cx="277.0" cy="215.1" rx="1.0" ry="1.1" fill="#5f3c1a"/><ellipse cx="292.1" cy="216.6" rx="1.1" ry="0.7" fill="#6e4720"/><ellipse cx="305.0" cy="214.9" rx="1.3" ry="0.8" fill="#94693a"/><ellipse cx="302.9" cy="210.1" rx="1.3" ry="0.7" fill="#94693a"/><ellipse cx="286.0" cy="217.7" rx="1.1" ry="0.7" fill="#94693a"/><ellipse cx="288.2" cy="206.4" rx="1.0" ry="0.8" fill="#4f3012"/><ellipse cx="284.6" cy="216.4" rx="1.2" ry="0.8" fill="#4f3012"/><ellipse cx="291.5" cy="218.1" rx="1.1" ry="1.0" fill="#6e4720"/><ellipse cx="286.1" cy="213.5" rx="1.3" ry="0.9" fill="#7a4f24"/><ellipse cx="308.0" cy="222.3" rx="0.8" ry="0.9" fill="#6e4720"/><ellipse cx="266.8" cy="222.4" rx="1.2" ry="0.9" fill="#845829"/><ellipse cx="288.9" cy="217.6" rx="1.3" ry="1.1" fill="#6e4720"/><ellipse cx="290.7" cy="215.6" rx="1.0" ry="0.6" fill="#94693a"/><ellipse cx="287.9" cy="208.3" rx="1.0" ry="1.1" fill="#6e4720"/><ellipse cx="283.8" cy="224.7" rx="1.3" ry="1.0" fill="#6e4720"/><ellipse cx="304.3" cy="223.1" rx="1.2" ry="0.9" fill="#94693a"/><ellipse cx="301.6" cy="220.3" rx="0.9" ry="0.9" fill="#94693a"/><ellipse cx="294.5" cy="220.1" rx="1.0" ry="0.8" fill="#553314"/><ellipse cx="274.3" cy="218.1" rx="1.0" ry="0.7" fill="#553314"/><ellipse cx="308.9" cy="223.4" rx="1.4" ry="0.7" fill="#a57e4c"/><ellipse cx="306.3" cy="218.3" rx="1.1" ry="1.1" fill="#a57e4c"/><ellipse cx="278.3" cy="214.5" rx="1.3" ry="1.0" fill="#553314"/><ellipse cx="282.8" cy="223.8" rx="0.9" ry="1.0" fill="#845829"/><ellipse cx="298.2" cy="224.6" rx="1.0" ry="1.0" fill="#94693a"/><ellipse cx="296.3" cy="208.4" rx="1.2" ry="0.7" fill="#a57e4c"/><ellipse cx="266.3" cy="223.3" rx="1.2" ry="0.6" fill="#94693a"/><ellipse cx="277.4" cy="217.9" rx="1.2" ry="0.7" fill="#4f3012"/><ellipse cx="281.3" cy="217.4" rx="0.9" ry="0.9" fill="#6e4720"/><ellipse cx="269.5" cy="224.5" rx="1.1" ry="0.8" fill="#a57e4c"/><ellipse cx="275.0" cy="223.3" rx="1.0" ry="0.8" fill="#94693a"/><ellipse cx="295.5" cy="216.8" rx="1.1" ry="0.7" fill="#a57e4c"/><ellipse cx="287.8" cy="217.4" rx="1.4" ry="1.0" fill="#7a4f24"/><ellipse cx="281.0" cy="221.3" rx="1.2" ry="0.8" fill="#5f3c1a"/><ellipse cx="304.1" cy="214.6" rx="0.9" ry="1.0" fill="#553314"/><ellipse cx="304.4" cy="221.5" rx="1.3" ry="1.0" fill="#4f3012"/><ellipse cx="303.5" cy="224.5" rx="1.3" ry="1.0" fill="#553314"/><ellipse cx="269.6" cy="221.6" rx="1.3" ry="1.1" fill="#553314"/><ellipse cx="285.0" cy="215.1" rx="1.4" ry="0.7" fill="#7a4f24"/><ellipse cx="309.4" cy="224.9" rx="1.2" ry="0.9" fill="#94693a"/><ellipse cx="308.7" cy="221.6" rx="1.0" ry="0.7" fill="#5f3c1a"/><ellipse cx="282.4" cy="223.9" rx="0.8" ry="1.1" fill="#a57e4c"/><ellipse cx="290.1" cy="222.8" rx="1.4" ry="0.9" fill="#553314"/><ellipse cx="293.6" cy="208.6" rx="1.3" ry="1.0" fill="#94693a"/><ellipse cx="294.4" cy="210.4" rx="1.0" ry="0.7" fill="#94693a"/><ellipse cx="306.3" cy="216.1" rx="0.9" ry="0.7" fill="#553314"/><ellipse cx="304.1" cy="214.0" rx="1.1" ry="1.0" fill="#553314"/><ellipse cx="288.9" cy="206.5" rx="1.0" ry="0.7" fill="#6e4720"/><ellipse cx="285.3" cy="217.1" rx="0.9" ry="1.0" fill="#5f3c1a"/><ellipse cx="295.4" cy="205.9" rx="0.8" ry="1.0" fill="#94693a"/><ellipse cx="294.0" cy="211.9" rx="1.3" ry="0.6" fill="#7a4f24"/><ellipse cx="306.9" cy="224.0" rx="1.0" ry="1.1" fill="#6e4720"/><ellipse cx="307.6" cy="218.3" rx="1.1" ry="0.8" fill="#7a4f24"/><ellipse cx="284.4" cy="223.6" rx="1.3" ry="0.7" fill="#553314"/><ellipse cx="289.3" cy="224.8" rx="0.9" ry="1.0" fill="#5f3c1a"/><ellipse cx="293.7" cy="224.5" rx="1.3" ry="0.7" fill="#5f3c1a"/><ellipse cx="271.7" cy="222.9" rx="1.1" ry="0.6" fill="#553314"/><ellipse cx="290.3" cy="223.4" rx="0.8" ry="1.0" fill="#7a4f24"/><ellipse cx="268.8" cy="221.6" rx="0.9" ry="0.8" fill="#5f3c1a"/><ellipse cx="289.2" cy="217.1" rx="1.3" ry="0.6" fill="#a57e4c"/><ellipse cx="294.8" cy="224.5" rx="1.3" ry="1.0" fill="#7a4f24"/><ellipse cx="282.4" cy="218.7" rx="1.4" ry="0.7" fill="#553314"/><ellipse cx="300.0" cy="212.2" rx="1.0" ry="0.9" fill="#6e4720"/><ellipse cx="303.4" cy="218.2" rx="1.2" ry="0.9" fill="#5f3c1a"/><ellipse cx="288.6" cy="219.8" rx="1.1" ry="1.1" fill="#4f3012"/><ellipse cx="307.4" cy="223.6" rx="1.3" ry="0.7" fill="#7a4f24"/><ellipse cx="286.0" cy="221.5" rx="1.3" ry="1.0" fill="#5f3c1a"/><ellipse cx="304.2" cy="219.6" rx="1.3" ry="1.0" fill="#7a4f24"/><ellipse cx="294.5" cy="223.4" rx="1.4" ry="0.8" fill="#553314"/><ellipse cx="275.5" cy="217.2" rx="1.1" ry="0.9" fill="#6e4720"/><ellipse cx="297.3" cy="219.4" rx="0.8" ry="0.8" fill="#553314"/><ellipse cx="282.6" cy="216.7" rx="0.8" ry="0.9" fill="#94693a"/><ellipse cx="308.9" cy="219.1" rx="1.2" ry="1.0" fill="#6e4720"/><ellipse cx="265.8" cy="224.4" rx="1.1" ry="1.1" fill="#7a4f24"/><ellipse cx="293.7" cy="224.8" rx="1.2" ry="1.1" fill="#6e4720"/><ellipse cx="267.4" cy="223.8" rx="1.3" ry="0.7" fill="#7a4f24"/><ellipse cx="309.7" cy="221.7" rx="1.2" ry="0.9" fill="#6e4720"/><ellipse cx="265.7" cy="224.8" rx="1.0" ry="0.7" fill="#94693a"/><ellipse cx="280.0" cy="209.3" rx="0.9" ry="0.8" fill="#6e4720"/><ellipse cx="308.5" cy="224.5" rx="1.0" ry="1.0" fill="#553314"/><ellipse cx="307.4" cy="223.3" rx="0.9" ry="0.9" fill="#a57e4c"/><ellipse cx="301.7" cy="209.5" rx="1.3" ry="1.0" fill="#4f3012"/><ellipse cx="294.0" cy="218.8" rx="1.0" ry="1.0" fill="#845829"/><ellipse cx="303.8" cy="215.8" rx="1.0" ry="0.8" fill="#553314"/><ellipse cx="274.3" cy="220.4" rx="1.2" ry="1.0" fill="#6e4720"/><ellipse cx="299.1" cy="209.0" rx="1.2" ry="0.9" fill="#6e4720"/><ellipse cx="294.5" cy="209.8" rx="1.3" ry="1.1" fill="#5f3c1a"/><ellipse cx="282.9" cy="212.9" rx="0.9" ry="0.8" fill="#5f3c1a"/><ellipse cx="299.3" cy="223.7" rx="1.3" ry="1.1" fill="#845829"/><ellipse cx="276.5" cy="216.3" rx="1.0" ry="0.8" fill="#4f3012"/><ellipse cx="265.8" cy="224.1" rx="1.2" ry="0.9" fill="#94693a"/><ellipse cx="309.8" cy="222.6" rx="0.9" ry="0.6" fill="#5f3c1a"/><ellipse cx="282.7" cy="208.0" rx="0.9" ry="0.8" fill="#845829"/><ellipse cx="294.7" cy="214.8" rx="1.1" ry="0.9" fill="#6e4720"/><ellipse cx="282.1" cy="219.1" rx="1.1" ry="0.8" fill="#94693a"/><ellipse cx="284.9" cy="217.8" rx="1.2" ry="0.9" fill="#553314"/><ellipse cx="304.6" cy="214.9" rx="1.2" ry="0.8" fill="#553314"/><ellipse cx="300.7" cy="220.1" rx="1.3" ry="0.7" fill="#a57e4c"/><ellipse cx="277.9" cy="218.9" rx="0.9" ry="1.0" fill="#7a4f24"/><ellipse cx="293.5" cy="215.1" rx="1.4" ry="1.1" fill="#7a4f24"/><ellipse cx="269.3" cy="222.7" rx="1.4" ry="0.6" fill="#6e4720"/><ellipse cx="272.7" cy="216.1" rx="1.0" ry="1.0" fill="#7a4f24"/><ellipse cx="291.9" cy="210.5" rx="0.9" ry="0.7" fill="#a57e4c"/><ellipse cx="295.0" cy="206.2" rx="1.3" ry="0.6" fill="#6e4720"/><ellipse cx="279.6" cy="218.8" rx="1.1" ry="0.7" fill="#7a4f24"/><ellipse cx="269.4" cy="222.6" rx="1.3" ry="1.0" fill="#7a4f24"/><ellipse cx="308.2" cy="219.4" rx="1.0" ry="1.0" fill="#845829"/><ellipse cx="297.8" cy="206.3" rx="1.4" ry="0.6" fill="#7a4f24"/><ellipse cx="274.1" cy="222.9" rx="1.3" ry="0.6" fill="#6e4720"/><ellipse cx="267.7" cy="223.8" rx="1.2" ry="0.6" fill="#a57e4c"/><ellipse cx="281.1" cy="217.0" rx="1.3" ry="1.1" fill="#7a4f24"/><ellipse cx="277.0" cy="213.1" rx="1.3" ry="1.0" fill="#5f3c1a"/><ellipse cx="279.7" cy="222.1" rx="1.2" ry="1.1" fill="#4f3012"/><ellipse cx="272.3" cy="216.2" rx="0.8" ry="1.1" fill="#6e4720"/><ellipse cx="302.6" cy="218.5" rx="0.9" ry="1.0" fill="#4f3012"/><ellipse cx="277.0" cy="216.6" rx="1.2" ry="0.8" fill="#a57e4c"/><ellipse cx="300.5" cy="222.0" rx="1.4" ry="1.0" fill="#a57e4c"/><ellipse cx="293.7" cy="213.0" rx="1.2" ry="0.6" fill="#6e4720"/><ellipse cx="270.9" cy="220.0" rx="1.1" ry="0.7" fill="#4f3012"/><ellipse cx="302.7" cy="220.9" rx="1.1" ry="0.7" fill="#6e4720"/><ellipse cx="293.9" cy="224.0" rx="1.0" ry="0.7" fill="#7a4f24"/><ellipse cx="283.1" cy="207.6" rx="1.3" ry="1.0" fill="#5f3c1a"/><ellipse cx="306.3" cy="218.1" rx="1.0" ry="0.8" fill="#94693a"/><ellipse cx="290.9" cy="213.4" rx="1.2" ry="0.8" fill="#5f3c1a"/><ellipse cx="269.0" cy="223.5" rx="1.1" ry="0.6" fill="#6e4720"/><ellipse cx="299.5" cy="215.4" rx="1.2" ry="0.7" fill="#553314"/><ellipse cx="283.5" cy="221.0" rx="1.0" ry="0.9" fill="#4f3012"/><ellipse cx="286.7" cy="217.0" rx="1.3" ry="0.8" fill="#a57e4c"/><ellipse cx="266.1" cy="223.6" rx="0.9" ry="1.0" fill="#5f3c1a"/><ellipse cx="278.1" cy="222.2" rx="1.4" ry="0.9" fill="#845829"/><ellipse cx="278.5" cy="211.7" rx="1.1" ry="1.0" fill="#94693a"/><ellipse cx="270.6" cy="219.3" rx="1.2" ry="0.8" fill="#553314"/><ellipse cx="274.5" cy="214.3" rx="1.0" ry="0.8" fill="#553314"/><ellipse cx="300.0" cy="219.5" rx="1.3" ry="0.9" fill="#7a4f24"/><ellipse cx="295.9" cy="215.5" rx="1.1" ry="1.1" fill="#553314"/><ellipse cx="293.3" cy="219.8" rx="1.4" ry="0.7" fill="#553314"/><ellipse cx="287.7" cy="218.3" rx="1.4" ry="0.6" fill="#5f3c1a"/><ellipse cx="285.9" cy="210.5" rx="0.8" ry="1.0" fill="#6e4720"/><ellipse cx="279.6" cy="214.8" rx="1.3" ry="1.1" fill="#5f3c1a"/><ellipse cx="299.0" cy="222.2" rx="1.1" ry="0.7" fill="#845829"/><ellipse cx="307.3" cy="222.9" rx="1.4" ry="0.9" fill="#a57e4c"/><ellipse cx="304.4" cy="211.7" rx="0.8" ry="1.0" fill="#553314"/><ellipse cx="294.7" cy="210.6" rx="1.1" ry="1.0" fill="#94693a"/><ellipse cx="269.3" cy="221.5" rx="1.1" ry="0.6" fill="#4f3012"/><ellipse cx="296.8" cy="223.8" rx="1.3" ry="1.0" fill="#a57e4c"/><ellipse cx="275.7" cy="212.5" rx="1.2" ry="0.7" fill="#4f3012"/><ellipse cx="267.3" cy="221.8" rx="1.2" ry="1.1" fill="#553314"/><ellipse cx="286.5" cy="208.3" rx="0.8" ry="0.8" fill="#553314"/><ellipse cx="277.5" cy="216.0" rx="1.2" ry="1.1" fill="#845829"/><ellipse cx="269.9" cy="222.1" rx="0.9" ry="1.1" fill="#6e4720"/><ellipse cx="305.7" cy="217.6" rx="1.3" ry="0.7" fill="#845829"/><ellipse cx="308.6" cy="218.8" rx="0.8" ry="0.9" fill="#553314"/><ellipse cx="275.7" cy="215.0" rx="1.1" ry="1.0" fill="#845829"/><ellipse cx="278.3" cy="224.8" rx="1.2" ry="0.7" fill="#94693a"/><ellipse cx="286.4" cy="209.9" rx="1.1" ry="0.8" fill="#5f3c1a"/><ellipse cx="295.1" cy="216.1" rx="1.3" ry="0.9" fill="#4f3012"/><ellipse cx="295.3" cy="213.5" rx="0.9" ry="1.0" fill="#553314"/><ellipse cx="301.7" cy="215.2" rx="1.3" ry="0.8" fill="#7a4f24"/><ellipse cx="300.0" cy="220.3" rx="0.8" ry="0.9" fill="#553314"/><ellipse cx="304.4" cy="213.0" rx="1.0" ry="0.8" fill="#845829"/><ellipse cx="287.4" cy="217.0" rx="1.0" ry="1.1" fill="#6e4720"/><ellipse cx="308.8" cy="222.2" rx="1.3" ry="1.1" fill="#6e4720"/><ellipse cx="285.7" cy="219.0" rx="0.9" ry="0.8" fill="#4f3012"/><ellipse cx="281.1" cy="224.6" rx="1.0" ry="0.9" fill="#553314"/><ellipse cx="307.6" cy="220.7" rx="1.0" ry="0.7" fill="#4f3012"/><ellipse cx="299.4" cy="216.2" rx="1.1" ry="1.1" fill="#7a4f24"/><ellipse cx="297.6" cy="208.8" rx="1.0" ry="0.7" fill="#845829"/><ellipse cx="280.1" cy="223.6" rx="0.9" ry="0.6" fill="#6e4720"/><ellipse cx="295.7" cy="208.1" rx="1.3" ry="0.7" fill="#845829"/><ellipse cx="305.3" cy="223.4" rx="1.3" ry="0.9" fill="#553314"/><ellipse cx="297.8" cy="221.6" rx="1.0" ry="1.0" fill="#6e4720"/><circle cx="292.7" cy="227.2" r="0.8" fill="#6e4720"/><circle cx="287.5" cy="225.1" r="0.8" fill="#6e4720"/><circle cx="263.9" cy="227.9" r="0.8" fill="#6e4720"/><circle cx="285.4" cy="224.6" r="0.8" fill="#6e4720"/><circle cx="313.7" cy="225.0" r="0.8" fill="#6e4720"/><circle cx="265.5" cy="227.1" r="0.8" fill="#6e4720"/><circle cx="263.9" cy="223.4" r="0.8" fill="#6e4720"/><circle cx="292.6" cy="224.1" r="0.8" fill="#6e4720"/><circle cx="266.4" cy="223.7" r="0.8" fill="#6e4720"/><circle cx="296.7" cy="226.7" r="0.8" fill="#6e4720"/><circle cx="299.0" cy="224.2" r="0.8" fill="#6e4720"/><circle cx="287.2" cy="221.8" r="0.8" fill="#6e4720"/><circle cx="293.2" cy="224.8" r="0.8" fill="#6e4720"/><circle cx="313.7" cy="224.2" r="0.8" fill="#6e4720"/><circle cx="284.3" cy="226.7" r="0.8" fill="#6e4720"/><circle cx="298.7" cy="225.3" r="0.8" fill="#6e4720"/><circle cx="301.3" cy="227.7" r="0.8" fill="#6e4720"/><circle cx="270.4" cy="226.0" r="0.8" fill="#6e4720"/><circle cx="279.5" cy="224.2" r="0.8" fill="#6e4720"/><circle cx="287.1" cy="222.9" r="0.8" fill="#6e4720"/><circle cx="306.6" cy="224.1" r="0.8" fill="#6e4720"/><circle cx="315.4" cy="227.0" r="0.8" fill="#6e4720"/><circle cx="300.0" cy="226.5" r="0.8" fill="#6e4720"/><circle cx="282.6" cy="224.3" r="0.8" fill="#6e4720"/><circle cx="304.8" cy="227.2" r="0.8" fill="#6e4720"/><circle cx="315.5" cy="224.4" r="0.8" fill="#6e4720"/></g>
</g>
<!-- Q2 flask -->
<g id="q2" stroke-linejoin="round" stroke-linecap="round">
<defs>
<clipPath id="bulbclip"><circle cx="561" cy="140.3" r="27.8"/></clipPath>
</defs>
<!-- liquid -->
<g clip-path="url(#bulbclip)">
<rect x="530" y="141" width="62" height="32" fill="#63cd90"/>
<ellipse cx="561" cy="141.5" rx="28.5" ry="5.2" fill="#a5e3c0"/>
<path d="M532.5 141.5 A28.5 5.2 0 0 0 589.5 141.5" fill="none" stroke="#3aa870" stroke-width="0.9"/>
</g>
<!-- flask outline -->
<path d="M552.3 91 L552.3 112.5 C540 116 531.3 127 531.3 140.3 A29.7 29.7 0 0 0 590.7 140.3 C590.7 127 582 116 569.2 112.5 L569.2 91" fill="none" stroke="#3d7a66" stroke-width="1.5"/>
<ellipse cx="560.7" cy="89.9" rx="11.8" ry="3.1" fill="#fdfdfd" stroke="#3d7a66" stroke-width="1.5"/>
<!-- bubbles -->
<g fill="#93d28f" stroke="#5da565" stroke-width="0.9">
<circle cx="563.8" cy="136.8" r="3.6"/><circle cx="553.7" cy="142" r="3.4"/><circle cx="570" cy="144.4" r="2.3" fill="#a8dcab"/>
<circle cx="553" cy="152.8" r="3.2"/><circle cx="571.3" cy="152" r="3.2"/><circle cx="561.8" cy="158.2" r="3.2"/>
</g>
<!-- sediment ellipse -->
<ellipse cx="561" cy="177.9" rx="29" ry="9.2" fill="#d3b4e5" stroke="#8a55b5" stroke-width="1.2"/>
<text x="561.6" y="183" text-anchor="middle" font-size="13.6" fill="#4a2c6d">沉淀</text>
<!-- disk -->
<path d="M532.7 201.3 L532.7 226 A28.3 8.5 0 0 0 589.3 226 L589.3 201.3 Z" fill="#7ed197" stroke="#2f8a55" stroke-width="1.2"/>
<path d="M532.7 201.3 L532.7 214 A28.3 8.5 0 0 0 589.3 214 L589.3 201.3 Z" fill="#a2dfb4" stroke="#2f8a55" stroke-width="1"/>
<ellipse cx="561" cy="201.3" rx="28.3" ry="8.5" fill="#c4ecd0" stroke="#2f8a55" stroke-width="1.2"/>
<!-- arrows -->
<g stroke="#2f9e58" stroke-width="1.5" fill="none">
<line x1="601" y1="143" x2="621" y2="143"/>
<circle cx="626" cy="143" r="4.6" fill="#fff"/>
<line x1="626" y1="148" x2="626" y2="168.5"/>
<line x1="626" y1="186.5" x2="626" y2="204"/>
<line x1="601" y1="177.9" x2="617" y2="177.9"/>
<line x1="601" y1="213" x2="617" y2="213"/>
</g>
<g fill="#2f9e58">
<path d="M596.3 143 L603.5 139.4 L603.5 146.6 Z"/>
<path d="M596.3 177.9 L603.5 174.3 L603.5 181.5 Z"/>
<path d="M596.3 213 L603.5 209.4 L603.5 216.6 Z"/>
</g>
<text x="625.2" y="182.7" text-anchor="middle" font-size="13" font-weight="500" fill="#2b6347">沉</text>
<text x="625.2" y="217.8" text-anchor="middle" font-size="13" font-weight="500" fill="#2b6347">层</text>
</g>
<!-- Q3 column -->
<g id="q3" stroke-linejoin="round" stroke-linecap="round">
<defs><clipPath id="rbclip"><circle cx="295" cy="424.6" r="14.2"/></clipPath></defs>
<!-- transfer tube -->
<path d="M306 391.7 L324 391.7 Q332 391.7 332 383.7 L332 311.3 Q332 303.3 340 303.3 L359.2 303.3 Q367.2 303.3 367.2 311.3 L367.2 322" fill="none" stroke="#45ad62" stroke-width="6"/>
<path d="M306 391.7 L324 391.7 Q332 391.7 332 383.7 L332 311.3 Q332 303.3 340 303.3 L359.2 303.3 Q367.2 303.3 367.2 311.3 L367.2 322" fill="none" stroke="#f4fbf6" stroke-width="3.2"/>
<path d="M306 391.7 L324 391.7 Q332 391.7 332 383.7 L332 311.3 Q332 303.3 340 303.3 L359.2 303.3 Q367.2 303.3 367.2 311.3 L367.2 322" fill="none" stroke="#8fd3a4" stroke-width="0.8"/>
<!-- top bulb -->
<path d="M293.3 299 L293.3 304 L297.7 304 L297.7 299" fill="#b8e8c8" stroke="#2f8a55" stroke-width="1.1"/>
<circle cx="295.5" cy="294" r="6.3" fill="#b8e8c8" stroke="#2f8a55" stroke-width="1.1"/>
<!-- inner tube -->
<rect x="293" y="312" width="5.2" height="19.5" fill="#bfe9cd" stroke="#6cc088" stroke-width="0.8"/>
<!-- condenser body -->
<path d="M290.6 312.8 C288 314.5 284.8 317 284.8 322.5 L284.8 388 C284.8 394 292.3 397 292.3 402 L292.3 410.5 M298.8 410.5 L298.8 402 C298.8 397 306.2 394 306.2 388 L306.2 322.5 C306.2 317 303 314.5 299.6 312.8" fill="none" stroke="#6c717b" stroke-width="1.2"/>
<rect x="290.4" y="303.2" width="9.4" height="9.8" rx="1" fill="#f0f0f1" stroke="#6a6d74" stroke-width="1.1"/>
<!-- side arm -->
<path d="M285 318.6 L282 320 L277 320 M277 323.4 L284.8 323.4" fill="none" stroke="#6c717b" stroke-width="1.1"/>
<ellipse cx="274.8" cy="321.2" rx="2.7" ry="3.9" fill="#a262cf" stroke="#7b3fa8" stroke-width="0.8"/>
<!-- coil -->
<path d="M295.5 329.6 L296.5 329.7 L297.4 329.9 L298.3 330.1 L299.2 330.3 L300.0 330.5 L300.7 330.7 L301.4 331.0 L301.9 331.3 L302.4 331.6 L302.7 331.8 L303.0 332.1 L303.1 332.4 L303.1 332.7 L303.0 333.1 L302.7 333.3 L302.4 333.6 L301.9 333.9 L301.4 334.2 L300.7 334.4 L300.0 334.7 L299.2 334.9 L298.3 335.1 L297.4 335.3 L296.5 335.5 L295.5 335.6 L294.5 335.7 L293.6 335.8 L292.7 335.9 L291.8 335.9 L291.0 336.0 L290.3 336.0 L289.6 336.0 L289.1 336.0 L288.6 335.9 L288.3 335.9 L288.0 335.9 L287.9 335.8 L287.9 335.8 L288.0 335.7 L288.3 335.7 L288.6 335.6 L289.1 335.6 L289.6 335.6 L290.3 335.6 L291.0 335.6 L291.8 335.7 L292.7 335.7 L293.6 335.8 L294.5 335.9 L295.5 336.0 L296.5 336.1 L297.4 336.3 L298.3 336.5 L299.2 336.7 L300.0 336.9 L300.7 337.1 L301.4 337.4 L301.9 337.7 L302.4 337.9 L302.7 338.2 L303.0 338.5 L303.1 338.8 L303.1 339.1 L303.0 339.4 L302.7 339.7 L302.4 340.0 L301.9 340.3 L301.4 340.6 L300.7 340.8 L300.0 341.1 L299.2 341.3 L298.3 341.5 L297.4 341.7 L296.5 341.8 L295.5 342.0 L294.5 342.1 L293.6 342.2 L292.7 342.3 L291.8 342.3 L291.0 342.4 L290.3 342.4 L289.6 342.4 L289.1 342.4 L288.6 342.3 L288.3 342.3 L288.0 342.3 L287.9 342.2 L287.9 342.2 L288.0 342.1 L288.3 342.1 L288.6 342.0 L289.1 342.0 L289.6 342.0 L290.3 342.0 L291.0 342.0 L291.8 342.0 L292.7 342.1 L293.6 342.2 L294.5 342.3 L295.5 342.4 L296.5 342.5 L297.4 342.7 L298.3 342.9 L299.2 343.1 L300.0 343.3 L300.7 343.5 L301.4 343.8 L301.9 344.0 L302.4 344.3 L302.7 344.6 L303.0 344.9 L303.1 345.2 L303.1 345.5 L303.0 345.8 L302.7 346.1 L302.4 346.4 L301.9 346.7 L301.4 347.0 L300.7 347.2 L300.0 347.5 L299.2 347.7 L298.3 347.9 L297.4 348.1 L296.5 348.2 L295.5 348.4 L294.5 348.5 L293.6 348.6 L292.7 348.7 L291.8 348.7 L291.0 348.7 L290.3 348.8 L289.6 348.8 L289.1 348.7 L288.6 348.7 L288.3 348.7 L288.0 348.6 L287.9 348.6 L287.9 348.5 L288.0 348.5 L288.3 348.5 L288.6 348.4 L289.1 348.4 L289.6 348.4 L290.3 348.4 L291.0 348.4 L291.8 348.4 L292.7 348.5 L293.6 348.6 L294.5 348.6 L295.5 348.8 L296.5 348.9 L297.4 349.1 L298.3 349.2 L299.2 349.5 L300.0 349.7 L300.7 349.9 L301.4 350.2 L301.9 350.4 L302.4 350.7 L302.7 351.0 L303.0 351.3 L303.1 351.6 L303.1 351.9 L303.0 352.2 L302.7 352.5 L302.4 352.8 L301.9 353.1 L301.4 353.4 L300.7 353.6 L300.0 353.9 L299.2 354.1 L298.3 354.3 L297.4 354.5 L296.5 354.6 L295.5 354.8 L294.5 354.9 L293.6 355.0 L292.7 355.0 L291.8 355.1 L291.0 355.1 L290.3 355.1 L289.6 355.1 L289.1 355.1 L288.6 355.1 L288.3 355.1 L288.0 355.0 L287.9 355.0 L287.9 354.9 L288.0 354.9 L288.3 354.8 L288.6 354.8 L289.1 354.8 L289.6 354.8 L290.3 354.8 L291.0 354.8 L291.8 354.8 L292.7 354.9 L293.6 354.9 L294.5 355.0 L295.5 355.2 L296.5 355.3 L297.4 355.5 L298.3 355.6 L299.2 355.8 L300.0 356.1 L300.7 356.3 L301.4 356.6 L301.9 356.8 L302.4 357.1 L302.7 357.4 L303.0 357.7 L303.1 358.0 L303.1 358.3 L303.0 358.6 L302.7 358.9 L302.4 359.2 L301.9 359.5 L301.4 359.7 L300.7 360.0 L300.0 360.2 L299.2 360.5 L298.3 360.7 L297.4 360.9 L296.5 361.0 L295.5 361.1 L294.5 361.3 L293.6 361.4 L292.7 361.4 L291.8 361.5 L291.0 361.5 L290.3 361.5 L289.6 361.5 L289.1 361.5 L288.6 361.5 L288.3 361.5 L288.0 361.4 L287.9 361.4 L287.9 361.3 L288.0 361.3 L288.3 361.2 L288.6 361.2 L289.1 361.2 L289.6 361.2 L290.3 361.2 L291.0 361.2 L291.8 361.2 L292.7 361.3 L293.6 361.3 L294.5 361.4 L295.5 361.5 L296.5 361.7 L297.4 361.8 L298.3 362.0 L299.2 362.2 L300.0 362.5 L300.7 362.7 L301.4 362.9 L301.9 363.2 L302.4 363.5 L302.7 363.8 L303.0 364.1 L303.1 364.4 L303.1 364.7 L303.0 365.0 L302.7 365.3 L302.4 365.6 L301.9 365.9 L301.4 366.1 L300.7 366.4 L300.0 366.6 L299.2 366.9 L298.3 367.1 L297.4 367.2 L296.5 367.4 L295.5 367.5 L294.5 367.7 L293.6 367.8 L292.7 367.8 L291.8 367.9 L291.0 367.9 L290.3 367.9 L289.6 367.9 L289.1 367.9 L288.6 367.9 L288.3 367.8 L288.0 367.8 L287.9 367.8 L287.9 367.7 L288.0 367.7 L288.3 367.6 L288.6 367.6 L289.1 367.6 L289.6 367.5 L290.3 367.5 L291.0 367.6 L291.8 367.6 L292.7 367.6 L293.6 367.7 L294.5 367.8 L295.5 367.9 L296.5 368.1 L297.4 368.2 L298.3 368.4 L299.2 368.6 L300.0 368.8 L300.7 369.1 L301.4 369.3 L301.9 369.6 L302.4 369.9 L302.7 370.2 L303.0 370.5 L303.1 370.8 L303.1 371.1 L303.0 371.4 L302.7 371.7 L302.4 372.0 L301.9 372.3 L301.4 372.5 L300.7 372.8 L300.0 373.0 L299.2 373.2 L298.3 373.4 L297.4 373.6 L296.5 373.8 L295.5 373.9 L294.5 374.0 L293.6 374.1 L292.7 374.2 L291.8 374.3 L291.0 374.3 L290.3 374.3 L289.6 374.3 L289.1 374.3 L288.6 374.3 L288.3 374.2 L288.0 374.2 L287.9 374.1 L287.9 374.1 L288.0 374.1 L288.3 374.0 L288.6 374.0 L289.1 373.9 L289.6 373.9 L290.3 373.9 L291.0 374.0 L291.8 374.0 L292.7 374.0 L293.6 374.1 L294.5 374.2 L295.5 374.3 L296.5 374.5 L297.4 374.6 L298.3 374.8 L299.2 375.0 L300.0 375.2 L300.7 375.5 L301.4 375.7 L301.9 376.0 L302.4 376.3 L302.7 376.6 L303.0 376.9 L303.1 377.2 L303.1 377.5 L303.0 377.8 L302.7 378.1 L302.4 378.4 L301.9 378.6 L301.4 378.9 L300.7 379.2 L300.0 379.4 L299.2 379.6 L298.3 379.8 L297.4 380.0 L296.5 380.2 L295.5 380.3 L294.5 380.4 L293.6 380.5 L292.7 380.6 L291.8 380.7 L291.0 380.7 L290.3 380.7 L289.6 380.7 L289.1 380.7 L288.6 380.7 L288.3 380.6 L288.0 380.6 L287.9 380.5 L287.9 380.5 L288.0 380.4 L288.3 380.4 L288.6 380.4 L289.1 380.3 L289.6 380.3 L290.3 380.3 L291.0 380.3 L291.8 380.4 L292.7 380.4 L293.6 380.5 L294.5 380.6 L295.5 380.7 L296.5 380.8 L297.4 381.0 L298.3 381.2 L299.2 381.4 L300.0 381.6 L300.7 381.9 L301.4 382.1 L301.9 382.4 L302.4 382.7 L302.7 383.0 L303.0 383.3 L303.1 383.6 L303.1 383.9 L303.0 384.2 L302.7 384.5 L302.4 384.8 L301.9 385.0 L301.4 385.3 L300.7 385.6 L300.0 385.8 L299.2 386.0 L298.3 386.2 L297.4 386.4 L296.5 386.6 L295.5 386.7 L294.5 386.8 L293.6 386.9 L292.7 387.0 L291.8 387.0 L291.0 387.1 L290.3 387.1 L289.6 387.1 L289.1 387.1 L288.6 387.1 L288.3 387.0 L288.0 387.0 L287.9 386.9 L287.9 386.9 L288.0 386.8 L288.3 386.8 L288.6 386.8 L289.1 386.7 L289.6 386.7 L290.3 386.7 L291.0 386.7 L291.8 386.8 L292.7 386.8 L293.6 386.9 L294.5 387.0 L295.5 387.1" fill="none" stroke="#45ad62" stroke-width="2.1"/><path d="M295.5 329.6 L296.5 329.7 L297.4 329.9 L298.3 330.1 L299.2 330.3 L300.0 330.5 L300.7 330.7 L301.4 331.0 L301.9 331.3 L302.4 331.6 L302.7 331.8 L303.0 332.1 L303.1 332.4 L303.1 332.7 L303.0 333.1 L302.7 333.3 L302.4 333.6 L301.9 333.9 L301.4 334.2 L300.7 334.4 L300.0 334.7 L299.2 334.9 L298.3 335.1 L297.4 335.3 L296.5 335.5 L295.5 335.6 L294.5 335.7 L293.6 335.8 L292.7 335.9 L291.8 335.9 L291.0 336.0 L290.3 336.0 L289.6 336.0 L289.1 336.0 L288.6 335.9 L288.3 335.9 L288.0 335.9 L287.9 335.8 L287.9 335.8 L288.0 335.7 L288.3 335.7 L288.6 335.6 L289.1 335.6 L289.6 335.6 L290.3 335.6 L291.0 335.6 L291.8 335.7 L292.7 335.7 L293.6 335.8 L294.5 335.9 L295.5 336.0 L296.5 336.1 L297.4 336.3 L298.3 336.5 L299.2 336.7 L300.0 336.9 L300.7 337.1 L301.4 337.4 L301.9 337.7 L302.4 337.9 L302.7 338.2 L303.0 338.5 L303.1 338.8 L303.1 339.1 L303.0 339.4 L302.7 339.7 L302.4 340.0 L301.9 340.3 L301.4 340.6 L300.7 340.8 L300.0 341.1 L299.2 341.3 L298.3 341.5 L297.4 341.7 L296.5 341.8 L295.5 342.0 L294.5 342.1 L293.6 342.2 L292.7 342.3 L291.8 342.3 L291.0 342.4 L290.3 342.4 L289.6 342.4 L289.1 342.4 L288.6 342.3 L288.3 342.3 L288.0 342.3 L287.9 342.2 L287.9 342.2 L288.0 342.1 L288.3 342.1 L288.6 342.0 L289.1 342.0 L289.6 342.0 L290.3 342.0 L291.0 342.0 L291.8 342.0 L292.7 342.1 L293.6 342.2 L294.5 342.3 L295.5 342.4 L296.5 342.5 L297.4 342.7 L298.3 342.9 L299.2 343.1 L300.0 343.3 L300.7 343.5 L301.4 343.8 L301.9 344.0 L302.4 344.3 L302.7 344.6 L303.0 344.9 L303.1 345.2 L303.1 345.5 L303.0 345.8 L302.7 346.1 L302.4 346.4 L301.9 346.7 L301.4 347.0 L300.7 347.2 L300.0 347.5 L299.2 347.7 L298.3 347.9 L297.4 348.1 L296.5 348.2 L295.5 348.4 L294.5 348.5 L293.6 348.6 L292.7 348.7 L291.8 348.7 L291.0 348.7 L290.3 348.8 L289.6 348.8 L289.1 348.7 L288.6 348.7 L288.3 348.7 L288.0 348.6 L287.9 348.6 L287.9 348.5 L288.0 348.5 L288.3 348.5 L288.6 348.4 L289.1 348.4 L289.6 348.4 L290.3 348.4 L291.0 348.4 L291.8 348.4 L292.7 348.5 L293.6 348.6 L294.5 348.6 L295.5 348.8 L296.5 348.9 L297.4 349.1 L298.3 349.2 L299.2 349.5 L300.0 349.7 L300.7 349.9 L301.4 350.2 L301.9 350.4 L302.4 350.7 L302.7 351.0 L303.0 351.3 L303.1 351.6 L303.1 351.9 L303.0 352.2 L302.7 352.5 L302.4 352.8 L301.9 353.1 L301.4 353.4 L300.7 353.6 L300.0 353.9 L299.2 354.1 L298.3 354.3 L297.4 354.5 L296.5 354.6 L295.5 354.8 L294.5 354.9 L293.6 355.0 L292.7 355.0 L291.8 355.1 L291.0 355.1 L290.3 355.1 L289.6 355.1 L289.1 355.1 L288.6 355.1 L288.3 355.1 L288.0 355.0 L287.9 355.0 L287.9 354.9 L288.0 354.9 L288.3 354.8 L288.6 354.8 L289.1 354.8 L289.6 354.8 L290.3 354.8 L291.0 354.8 L291.8 354.8 L292.7 354.9 L293.6 354.9 L294.5 355.0 L295.5 355.2 L296.5 355.3 L297.4 355.5 L298.3 355.6 L299.2 355.8 L300.0 356.1 L300.7 356.3 L301.4 356.6 L301.9 356.8 L302.4 357.1 L302.7 357.4 L303.0 357.7 L303.1 358.0 L303.1 358.3 L303.0 358.6 L302.7 358.9 L302.4 359.2 L301.9 359.5 L301.4 359.7 L300.7 360.0 L300.0 360.2 L299.2 360.5 L298.3 360.7 L297.4 360.9 L296.5 361.0 L295.5 361.1 L294.5 361.3 L293.6 361.4 L292.7 361.4 L291.8 361.5 L291.0 361.5 L290.3 361.5 L289.6 361.5 L289.1 361.5 L288.6 361.5 L288.3 361.5 L288.0 361.4 L287.9 361.4 L287.9 361.3 L288.0 361.3 L288.3 361.2 L288.6 361.2 L289.1 361.2 L289.6 361.2 L290.3 361.2 L291.0 361.2 L291.8 361.2 L292.7 361.3 L293.6 361.3 L294.5 361.4 L295.5 361.5 L296.5 361.7 L297.4 361.8 L298.3 362.0 L299.2 362.2 L300.0 362.5 L300.7 362.7 L301.4 362.9 L301.9 363.2 L302.4 363.5 L302.7 363.8 L303.0 364.1 L303.1 364.4 L303.1 364.7 L303.0 365.0 L302.7 365.3 L302.4 365.6 L301.9 365.9 L301.4 366.1 L300.7 366.4 L300.0 366.6 L299.2 366.9 L298.3 367.1 L297.4 367.2 L296.5 367.4 L295.5 367.5 L294.5 367.7 L293.6 367.8 L292.7 367.8 L291.8 367.9 L291.0 367.9 L290.3 367.9 L289.6 367.9 L289.1 367.9 L288.6 367.9 L288.3 367.8 L288.0 367.8 L287.9 367.8 L287.9 367.7 L288.0 367.7 L288.3 367.6 L288.6 367.6 L289.1 367.6 L289.6 367.5 L290.3 367.5 L291.0 367.6 L291.8 367.6 L292.7 367.6 L293.6 367.7 L294.5 367.8 L295.5 367.9 L296.5 368.1 L297.4 368.2 L298.3 368.4 L299.2 368.6 L300.0 368.8 L300.7 369.1 L301.4 369.3 L301.9 369.6 L302.4 369.9 L302.7 370.2 L303.0 370.5 L303.1 370.8 L303.1 371.1 L303.0 371.4 L302.7 371.7 L302.4 372.0 L301.9 372.3 L301.4 372.5 L300.7 372.8 L300.0 373.0 L299.2 373.2 L298.3 373.4 L297.4 373.6 L296.5 373.8 L295.5 373.9 L294.5 374.0 L293.6 374.1 L292.7 374.2 L291.8 374.3 L291.0 374.3 L290.3 374.3 L289.6 374.3 L289.1 374.3 L288.6 374.3 L288.3 374.2 L288.0 374.2 L287.9 374.1 L287.9 374.1 L288.0 374.1 L288.3 374.0 L288.6 374.0 L289.1 373.9 L289.6 373.9 L290.3 373.9 L291.0 374.0 L291.8 374.0 L292.7 374.0 L293.6 374.1 L294.5 374.2 L295.5 374.3 L296.5 374.5 L297.4 374.6 L298.3 374.8 L299.2 375.0 L300.0 375.2 L300.7 375.5 L301.4 375.7 L301.9 376.0 L302.4 376.3 L302.7 376.6 L303.0 376.9 L303.1 377.2 L303.1 377.5 L303.0 377.8 L302.7 378.1 L302.4 378.4 L301.9 378.6 L301.4 378.9 L300.7 379.2 L300.0 379.4 L299.2 379.6 L298.3 379.8 L297.4 380.0 L296.5 380.2 L295.5 380.3 L294.5 380.4 L293.6 380.5 L292.7 380.6 L291.8 380.7 L291.0 380.7 L290.3 380.7 L289.6 380.7 L289.1 380.7 L288.6 380.7 L288.3 380.6 L288.0 380.6 L287.9 380.5 L287.9 380.5 L288.0 380.4 L288.3 380.4 L288.6 380.4 L289.1 380.3 L289.6 380.3 L290.3 380.3 L291.0 380.3 L291.8 380.4 L292.7 380.4 L293.6 380.5 L294.5 380.6 L295.5 380.7 L296.5 380.8 L297.4 381.0 L298.3 381.2 L299.2 381.4 L300.0 381.6 L300.7 381.9 L301.4 382.1 L301.9 382.4 L302.4 382.7 L302.7 383.0 L303.0 383.3 L303.1 383.6 L303.1 383.9 L303.0 384.2 L302.7 384.5 L302.4 384.8 L301.9 385.0 L301.4 385.3 L300.7 385.6 L300.0 385.8 L299.2 386.0 L298.3 386.2 L297.4 386.4 L296.5 386.6 L295.5 386.7 L294.5 386.8 L293.6 386.9 L292.7 387.0 L291.8 387.0 L291.0 387.1 L290.3 387.1 L289.6 387.1 L289.1 387.1 L288.6 387.1 L288.3 387.0 L288.0 387.0 L287.9 386.9 L287.9 386.9 L288.0 386.8 L288.3 386.8 L288.6 386.8 L289.1 386.7 L289.6 386.7 L290.3 386.7 L291.0 386.7 L291.8 386.8 L292.7 386.8 L293.6 386.9 L294.5 387.0 L295.5 387.1" fill="none" stroke="#c8eed3" stroke-width="0.7"/>
<path d="M291 388.5 Q299 390 295.6 394 L294.8 402" fill="none" stroke="#3aa655" stroke-width="1.6"/>
<rect x="293.9" y="395" width="2.6" height="8" fill="#bfe9cd" stroke="#3aa655" stroke-width="0.8"/>
<!-- round flask -->
<g clip-path="url(#rbclip)"><rect x="279" y="423.4" width="32" height="20" fill="#35b65c"/></g>
<path d="M292.3 410.3 A15.3 15.3 0 1 0 298.8 410.3" fill="none" stroke="#6c717b" stroke-width="1.3"/>
<!-- test tube stand -->
<path d="M345.4 419 L390 419 Q392.5 419 393.3 421 L399 434 Q399.8 436.5 397 436.5 L338 436.5 Q335.3 436.5 336.2 434 L342 421 Q342.8 419 345.4 419 Z" fill="#3a3f42"/>
<!-- test tube -->
<path d="M355.2 328 L355.2 417 A12.15 12.15 0 0 0 379.5 417 L379.5 328 Z" fill="#fbfbfc" stroke="#6d7178" stroke-width="1.3"/>
<path d="M357.8 356.8 L357.8 417.5 A9.85 9.85 0 0 0 377.5 417.5 L377.5 356.8 Z" fill="url(#tubeliq)"/>
<g fill="#3daa45" stroke="none"><circle cx="368" cy="363.7" r="1.45"/><circle cx="363" cy="366.8" r="1.45"/><circle cx="372.2" cy="367" r="1.45"/><circle cx="363.2" cy="373.5" r="1.45"/><circle cx="368" cy="371.5" r="1.45"/><circle cx="371.8" cy="375.5" r="1.45"/><circle cx="367" cy="377.5" r="1.45"/><circle cx="363.3" cy="381" r="1.45"/><circle cx="367.5" cy="384.5" r="1.45"/><circle cx="363.3" cy="387.5" r="1.45"/><circle cx="370.3" cy="389" r="1.45"/><circle cx="365.8" cy="391.5" r="1.45"/><circle cx="369.5" cy="393.6" r="1.45"/><circle cx="365.8" cy="397.7" r="1.45"/><circle cx="366.7" cy="404.2" r="1.45"/></g>
<rect x="352.8" y="321.3" width="28.8" height="6.8" rx="2" fill="#f6f6f7" stroke="#6d7178" stroke-width="1.2"/>
<rect x="348" y="342.8" width="38.4" height="5.6" rx="2.6" fill="#3a3f42"/>
</g>
<!-- Q4 hplc -->
<g id="q4" stroke-linejoin="round" stroke-linecap="round">
<text x="525" y="319" font-size="16.2" fill="#3d1f5e" style="font-family:'Liberation Sans',sans-serif" textLength="41" lengthAdjust="spacingAndGlyphs">HPLC</text>
<!-- light chart -->
<g stroke="#d9dfea" stroke-width="0.7"><line x1="483.4" y1="324.3" x2="564" y2="324.3"/><line x1="483.4" y1="332.8" x2="564" y2="332.8"/><line x1="483.4" y1="341.3" x2="564" y2="341.3"/><line x1="483.4" y1="349.6" x2="564" y2="349.6"/><line x1="483.4" y1="357.6" x2="564" y2="357.6"/><line x1="503.4" y1="323" x2="503.4" y2="363.2"/><line x1="523.4" y1="323" x2="523.4" y2="363.2"/><line x1="543.4" y1="323" x2="543.4" y2="363.2"/><line x1="563.4" y1="323" x2="563.4" y2="363.2"/></g>
<g stroke="#5b6068" stroke-width="1">
<line x1="483.4" y1="323" x2="483.4" y2="363.2"/><line x1="483.4" y1="363.2" x2="565" y2="363.2"/>
<line x1="503.4" y1="363.2" x2="503.4" y2="364.6"/><line x1="523.4" y1="363.2" x2="523.4" y2="364.6"/><line x1="543.4" y1="363.2" x2="543.4" y2="364.6"/><line x1="563.4" y1="363.2" x2="563.4" y2="364.6"/>
<line x1="482" y1="324.3" x2="483.4" y2="324.3"/><line x1="482" y1="332.8" x2="483.4" y2="332.8"/><line x1="482" y1="341.3" x2="483.4" y2="341.3"/><line x1="482" y1="349.6" x2="483.4" y2="349.6"/><line x1="482" y1="357.6" x2="483.4" y2="357.6"/>
</g>
<g font-size="4.2" fill="#9aa0ab" style="font-family:'Liberation Sans',sans-serif"><text x="480.5" y="325.90000000000003" text-anchor="end">100</text><text x="480.5" y="334.40000000000003" text-anchor="end">300</text><text x="480.5" y="342.90000000000003" text-anchor="end">100</text><text x="480.5" y="351.20000000000005" text-anchor="end">20</text><text x="480.5" y="360.1" text-anchor="end">0</text><text transform="translate(484.4,367) rotate(-45)" text-anchor="end">0:00</text><text transform="translate(504.4,367) rotate(-45)" text-anchor="end">0:0.15</text><text transform="translate(524.4,367) rotate(-45)" text-anchor="end">0:0.15</text><text transform="translate(544.4,367) rotate(-45)" text-anchor="end">0:0.15</text><text transform="translate(564.4,367) rotate(-45)" text-anchor="end">0:0.15</text></g>
<path d="M483.6 353.3 C484.5 353.1 487.4 353.5 489.0 352.3 C490.6 351.1 491.8 349.2 493.5 346.0 C495.2 342.8 497.1 336.2 499.0 333.0 C500.9 329.8 502.9 327.1 504.7 326.9 C506.5 326.7 508.4 329.7 510.0 332.0 C511.6 334.3 512.7 337.8 514.0 340.5 C515.3 343.2 517.3 346.8 518.0 348.0" fill="none" stroke="#3b8de0" stroke-width="1.3"/>
<path d="M483.6 353.3 C484.5 353.1 487.3 353.4 489.0 352.3 C490.7 351.2 492.2 349.6 494.0 347.0 C495.8 344.4 497.5 339.3 499.5 336.5 C501.5 333.7 503.7 330.4 505.8 330.4 C507.9 330.4 510.0 333.6 512.0 336.5 C514.0 339.4 516.0 345.1 518.0 348.0 C520.0 350.9 522.2 352.9 524.2 353.6 C526.2 354.3 528.2 353.0 530.0 352.0 C531.8 351.0 533.3 348.6 535.0 347.5 C536.7 346.4 538.5 345.5 540.2 345.6 C542.0 345.7 543.8 346.9 545.5 348.0 C547.2 349.1 548.9 351.1 550.5 352.0 C552.1 352.9 552.9 353.0 555.0 353.2 C557.1 353.4 562.0 353.3 563.4 353.3" fill="none" stroke="#f0923a" stroke-width="1.3"/>
<!-- dark chart -->
<rect x="472.7" y="382" width="90.7" height="54" fill="#35364f"/>
<g fill="#8a8ca5"><rect x="476.5" y="385" width="9" height="1.4"/><rect x="488" y="385" width="5.5" height="1.4"/><rect x="496" y="385" width="5" height="1.4"/><rect x="503" y="385" width="4.5" height="1.4"/></g>
<g fill="#f0a030"><rect x="546" y="387.7" width="3" height="1.4"/><rect x="551" y="387.7" width="3" height="1.4"/><rect x="556" y="387.7" width="3.5" height="1.4" fill="#e8c040"/></g>
<line x1="476.5" y1="388.6" x2="544" y2="388.6" stroke="#55577a" stroke-width="0.5"/>
<g stroke="#4b4c68" stroke-width="0.6"><line x1="480.5" y1="393.5" x2="560.5" y2="393.5"/><line x1="480.5" y1="400.4" x2="560.5" y2="400.4"/><line x1="480.5" y1="407.6" x2="560.5" y2="407.6"/><line x1="480.5" y1="414.5" x2="560.5" y2="414.5"/><line x1="480.5" y1="421.4" x2="560.5" y2="421.4"/><line x1="487.4" y1="391.6" x2="487.4" y2="429.5"/><line x1="497.6" y1="391.6" x2="497.6" y2="429.5"/><line x1="507.7" y1="391.6" x2="507.7" y2="429.5"/><line x1="517.8" y1="391.6" x2="517.8" y2="429.5"/><line x1="528" y1="391.6" x2="528" y2="429.5"/><line x1="538" y1="391.6" x2="538" y2="429.5"/><line x1="548" y1="391.6" x2="548" y2="429.5"/><line x1="558" y1="391.6" x2="558" y2="429.5"/></g>
<path d="M481.0 413.5 C482.2 413.5 485.7 413.6 488.0 413.5 C490.3 413.4 492.6 414.1 494.6 413.2 C496.6 412.3 498.3 409.6 500.0 408.0 C501.7 406.4 503.3 404.6 505.0 403.8 C506.7 403.0 508.4 403.4 510.0 403.4 C511.6 403.4 513.1 404.5 514.6 404.0 C516.1 403.5 517.5 401.9 519.0 400.5 C520.5 399.1 522.1 395.7 523.4 395.6 C524.7 395.5 525.8 397.6 527.0 400.0 C528.2 402.4 529.4 407.6 530.5 410.0 C531.6 412.4 532.2 413.9 533.8 414.6 C535.4 415.3 537.6 414.3 540.0 414.0 C542.4 413.7 545.7 413.1 548.0 413.0 C550.3 412.9 552.2 413.1 554.0 413.2 C555.8 413.3 558.2 413.5 559.0 413.6 L559.0 419.6 L554.0 418.6 L548.0 418.0 L540.0 419.3 L534.6 420.4 L531.0 416.5 L527.3 407.0 L523.4 402.8 L519.0 408.0 L514.6 411.5 L510.0 410.8 L505.0 411.0 L500.0 414.5 L494.6 419.0 L488.0 419.3 L481.0 419.3 Z" fill="#3f5a4a" fill-opacity="0.55" stroke="none"/>
<g stroke="#d0d1de" stroke-width="0.9"><line x1="480.5" y1="391.6" x2="480.5" y2="429.5"/><line x1="480.5" y1="429.5" x2="560.5" y2="429.5"/></g>
<g font-size="2.6" fill="#b9bace" style="font-family:'Liberation Sans',sans-serif"><text x="478.8" y="394.7" text-anchor="end">400</text><text x="478.8" y="401.59999999999997" text-anchor="end">300</text><text x="478.8" y="408.8" text-anchor="end">200</text><text x="478.8" y="415.7" text-anchor="end">100</text><text x="478.8" y="422.59999999999997" text-anchor="end">50</text><text x="478.8" y="430.2" text-anchor="end">0</text><text x="487.4" y="433.8" text-anchor="middle">10</text><text x="497.6" y="433.8" text-anchor="middle">20</text><text x="507.7" y="433.8" text-anchor="middle">30</text><text x="517.8" y="433.8" text-anchor="middle">40</text><text x="528" y="433.8" text-anchor="middle">50</text><text x="538" y="433.8" text-anchor="middle">60</text><text x="548" y="433.8" text-anchor="middle">70</text><text x="558" y="433.8" text-anchor="middle">80</text></g>
<path d="M481.0 413.5 C482.2 413.5 485.7 413.6 488.0 413.5 C490.3 413.4 492.6 414.1 494.6 413.2 C496.6 412.3 498.3 409.6 500.0 408.0 C501.7 406.4 503.3 404.6 505.0 403.8 C506.7 403.0 508.4 403.4 510.0 403.4 C511.6 403.4 513.1 404.5 514.6 404.0 C516.1 403.5 517.5 401.9 519.0 400.5 C520.5 399.1 522.1 395.7 523.4 395.6 C524.7 395.5 525.8 397.6 527.0 400.0 C528.2 402.4 529.4 407.6 530.5 410.0 C531.6 412.4 532.2 413.9 533.8 414.6 C535.4 415.3 537.6 414.3 540.0 414.0 C542.4 413.7 545.7 413.1 548.0 413.0 C550.3 412.9 552.2 413.1 554.0 413.2 C555.8 413.3 558.2 413.5 559.0 413.6" fill="none" stroke="url(#lineg)" stroke-width="1.5"/>
<path d="M481.0 419.3 C482.2 419.3 485.7 419.4 488.0 419.3 C490.3 419.2 492.6 419.8 494.6 419.0 C496.6 418.2 498.3 415.8 500.0 414.5 C501.7 413.2 503.3 411.6 505.0 411.0 C506.7 410.4 508.4 410.7 510.0 410.8 C511.6 410.9 513.1 412.0 514.6 411.5 C516.1 411.0 517.5 409.4 519.0 408.0 C520.5 406.6 522.0 403.0 523.4 402.8 C524.8 402.6 526.0 404.7 527.3 407.0 C528.6 409.3 529.8 414.3 531.0 416.5 C532.2 418.7 533.1 419.9 534.6 420.4 C536.1 420.9 537.8 419.7 540.0 419.3 C542.2 418.9 545.7 418.1 548.0 418.0 C550.3 417.9 552.2 418.3 554.0 418.6 C555.8 418.9 558.2 419.4 559.0 419.6" fill="none" stroke="#f0a020" stroke-width="1.5"/>
<!-- microscope placeholder -->
<g id="scope" stroke-linejoin="round" stroke-linecap="round">
<!-- base -->
<path d="M577 413.5 Q574.5 415.5 576 417 L608 422.6 Q610.5 423 613 421.8 L650 404.8 Q652 403.5 650 402.3 L632 397 L599 402 Z" fill="#f6f7f9" stroke="#4a4d55" stroke-width="1"/>
<path d="M575.2 416.5 L575.2 426.5 L610.5 434.3 L610.5 423 Q609 423 608 422.6 Z" fill="#eceef2" stroke="#4a4d55" stroke-width="1"/>
<path d="M610.5 423 L610.5 434.3 L651.2 416.5 L651.2 403.6 Q651 404.3 650 404.8 L613 421.8 Q611.8 422.6 610.5 423 Z" fill="#e4e6eb" stroke="#4a4d55" stroke-width="1"/>
<path d="M575 427.6 L610.5 435.6 L651.3 417.8" fill="none" stroke="#2b2d30" stroke-width="2.8"/>
<path d="M578 429 L578 431.5 L583 432.5 M640 424 L640 426.5 L646 424" fill="none" stroke="#2b2d30" stroke-width="2"/>
<path d="M583 415.8 L588.5 411.4 L606.5 415.6 L602 420.6 Z" fill="#9fcbf2" stroke="#5580b0" stroke-width="0.8"/>
<!-- arm -->
<path d="M617 340.5 L642.8 352.4 L642.8 401.5 L627 409 L618 405 Z" fill="#f3f4f6" stroke="#4a4d55" stroke-width="1"/>
<path d="M618 352 L627.5 358 L627.5 408.6 L618 405 Z" fill="#c3c6ce" stroke="#4a4d55" stroke-width="0.8"/>
<path d="M619 347 L635 356.5 L635 404.8" fill="none" stroke="#b4b8c0" stroke-width="0.8"/>
<!-- condenser -->
<g fill="#2e3033" stroke="#4a4d52" stroke-width="0.6">
<path d="M594 396 L594 405.5 A9.6 3.2 0 0 0 613.2 405.5 L613.2 396 Z"/>
<ellipse cx="603.6" cy="403.3" rx="9.6" ry="3"/><ellipse cx="603.6" cy="400" rx="9.6" ry="3"/><ellipse cx="603.6" cy="396.6" rx="9.6" ry="3"/>
<ellipse cx="603.6" cy="395" rx="8" ry="2.4" fill="#3b3e42"/>
</g>
<!-- stage -->
<path d="M575 381 L575 384.6 L608.2 391.3 L634.2 382 L634.2 378 Z" fill="#1f2123"/>
<path d="M575 381 L604 372.8 L634.2 378 L608.2 387.3 Z" fill="#2f3134" stroke="#1f2123" stroke-width="0.6"/>
<path d="M589 379 L603 374.3 L621 377 L609 382.5 Z" fill="#c3ebe2" stroke="#7fb5aa" stroke-width="0.5"/>
<path d="M599.5 378.2 L604 376.4 L609.5 377.3 L605.5 379.2 Z" fill="#3cc04a"/>
<!-- knob -->
<circle cx="640" cy="390.3" r="8.4" fill="#2d2f32"/>
<ellipse cx="642" cy="390.6" rx="5.8" ry="7" fill="#4b4e53"/>
<!-- objectives -->
<path d="M600.6 360 L609 360 L609 368 L607.3 373.4 L602.6 373.4 L600.6 368 Z" fill="#8b8e94" stroke="#4a4d55" stroke-width="0.8"/>
<line x1="600.6" y1="366.2" x2="609" y2="366.2" stroke="#4a4d55" stroke-width="0.6"/>
<g transform="rotate(33 589.8 363.6)">
<rect x="584.6" y="357.6" width="10.4" height="12" rx="1.2" fill="#6c6f75" stroke="#3a3d42" stroke-width="0.8"/>
<rect x="584.6" y="367.2" width="10.4" height="2.6" rx="1" fill="#35383c"/>
</g>
<!-- head -->
<path d="M590.5 345 L591.5 351 Q602 358.5 613 352.5 L618 347 L618 341 Z" fill="#eceef1" stroke="#4a4d55" stroke-width="1"/>
<path d="M590.2 354 L593.5 360.5 Q601 364 609.5 361.5 L612.8 356.5 Z" fill="#c4c7cd" stroke="#4a4d55" stroke-width="0.8"/>
<ellipse cx="600.8" cy="354.4" rx="12.4" ry="3.5" transform="rotate(7 600.8 354.4)" fill="#3c3f44" stroke="#2e3033" stroke-width="0.6"/>
<ellipse cx="600.8" cy="353.3" rx="10.8" ry="2.4" transform="rotate(7 600.8 353.3)" fill="#dfe1e5"/>
<!-- eyepiece -->
<line x1="614.5" y1="329.3" x2="632.6" y2="306.2" stroke="#2b2d30" stroke-width="11" stroke-linecap="butt"/>
<ellipse cx="633.2" cy="305.3" rx="5.6" ry="2.6" transform="rotate(38 633.2 305.3)" fill="#2b2d30"/>
<path d="M589.2 333.5 Q589 331.5 591 330 L597.5 325.8 Q599 325 601 325.2 L610 326.2 Q612 326.5 613.5 328 L617.2 331.6 Q618.3 333 618.3 335 L618.3 341.5 Q604 349.5 589.2 344.5 Z" fill="#f1f2f5" stroke="#4a4d55" stroke-width="1"/>
<path d="M589.6 333 L603.5 335.2 Q605.5 335.3 607 334.2 L617.5 332" fill="none" stroke="#4a4d55" stroke-width="0.8"/>
<path d="M589.3 341.5 Q604 347.5 618.3 339.5" fill="none" stroke="#3a3d42" stroke-width="1.2"/>
</g>
</g>

<!-- CAPTIONS -->
<text class="cap" x="319.8" y="253.3" text-anchor="middle">超声提取仪</text>
<text class="cap" x="594.2" y="253.3" text-anchor="middle" style="font-size:17.3px">离心分离后上清液</text>
<text class="capp" x="338" y="462.8" text-anchor="middle">葡聚醣凝胶层浏柱</text>
<text class="capp" x="566.7" y="462.8" text-anchor="middle" style="font-size:17.6px">紫外分光光度机</text>
</svg>
</body>
</html>
